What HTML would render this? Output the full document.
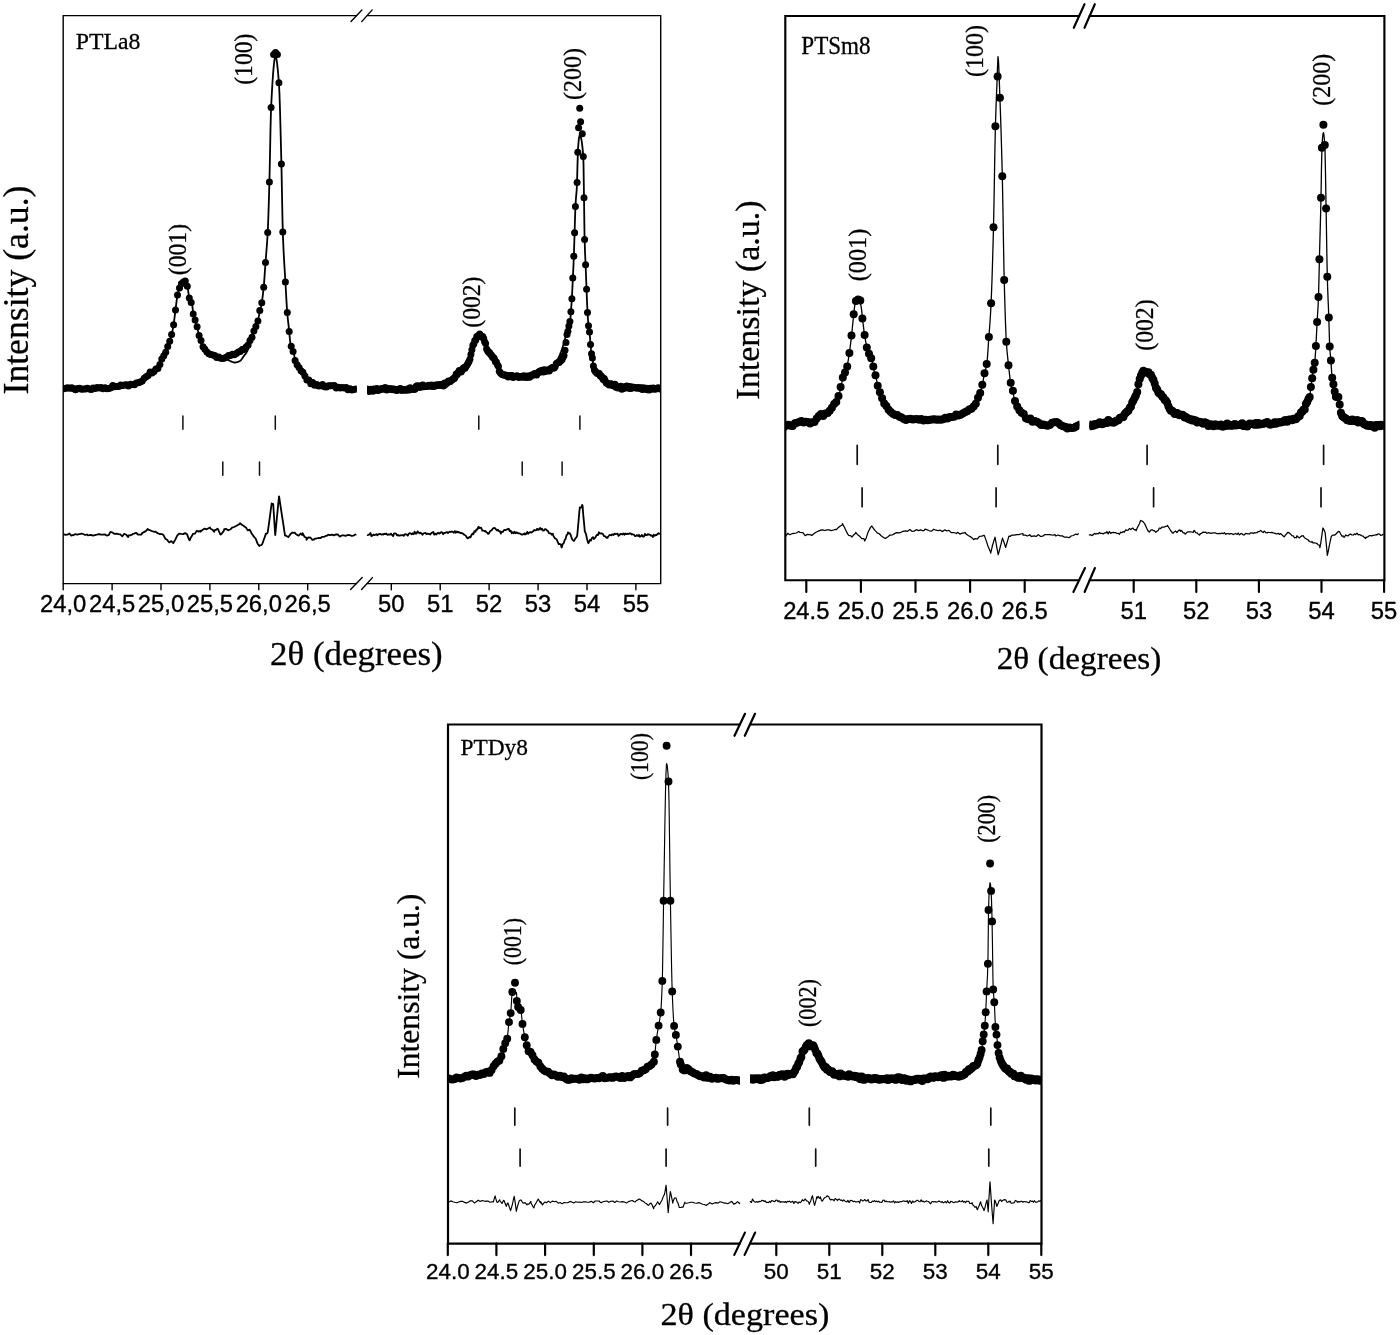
<!DOCTYPE html>
<html><head><meta charset="utf-8"><title>XRD</title>
<style>html,body{margin:0;padding:0;background:#fff;}svg{display:block;will-change:transform;}</style>
</head><body>
<svg width="1400" height="1335" viewBox="0 0 1400 1335">
<rect width="1400" height="1335" fill="#fff"/>
<g fill="none" stroke="#000" stroke-width="1.4" stroke-linecap="round" stroke-linejoin="miter"><path d="M356.6 15.6H63.2V583.6H356.6" /><path d="M367.1 15.6H660.7V583.6H367.1" /><path d="M351 21.6L361.9 9.9" /><path d="M361.7 21.6L372.2 9.9" /><path d="M350.6 589.5L362.2 577.6" /><path d="M361.6 589.5L372.4 577.6" /><path d="M63.2 583.6V589.7" /><path d="M112.1 583.6V589.7" /><path d="M161 583.6V589.7" /><path d="M209.9 583.6V589.7" /><path d="M258.8 583.6V589.7" /><path d="M307.7 583.6V589.7" /><path d="M391.3 583.6V589.7" /><path d="M440.2 583.6V589.7" /><path d="M489.1 583.6V589.7" /><path d="M538.1 583.6V589.7" /><path d="M587 583.6V589.7" /><path d="M635.9 583.6V589.7" /></g>
<g font-family='"Liberation Sans", sans-serif' font-size="23.8" text-anchor="middle" fill="#000" stroke="#000" stroke-width="0.35"><text x="63.2" y="611.8">24,0</text><text x="112.1" y="611.8">24,5</text><text x="161" y="611.8">25,0</text><text x="209.9" y="611.8">25,5</text><text x="258.8" y="611.8">26,0</text><text x="307.7" y="611.8">26,5</text><text x="391.3" y="611.8">50</text><text x="440.2" y="611.8">51</text><text x="489.1" y="611.8">52</text><text x="538.1" y="611.8">53</text><text x="587" y="611.8">54</text><text x="635.9" y="611.8">55</text></g>
<g fill="none" stroke="#000" stroke-width="2.15" stroke-linecap="round" stroke-linejoin="miter"><path d="M1079.2 16H785.3V580.2H1079.2" /><path d="M1089.7 16H1384.4V580.2H1089.7" /><path d="M1073.8 27.8L1084.5 4.2" /><path d="M1084.5 27.8L1094.8 4.2" /><path d="M1073.4 592L1085 568" /><path d="M1084.6 592L1094.9 568" /><path d="M806.3 580.2V592" /><path d="M860.9 580.2V592" /><path d="M915.5 580.2V592" /><path d="M970.1 580.2V592" /><path d="M1024.7 580.2V592" /><path d="M1133.7 580.2V592" /><path d="M1196.3 580.2V592" /><path d="M1258.9 580.2V592" /><path d="M1321.5 580.2V592" /><path d="M1384.1 580.2V592" /></g>
<g font-family='"Liberation Sans", sans-serif' font-size="23.8" text-anchor="middle" fill="#000" stroke="#000" stroke-width="0.35"><text x="806.3" y="618.6">24.5</text><text x="860.9" y="618.6">25.0</text><text x="915.5" y="618.6">25.5</text><text x="970.1" y="618.6">26.0</text><text x="1024.7" y="618.6">26.5</text><text x="1133.7" y="618.6">51</text><text x="1196.3" y="618.6">52</text><text x="1258.9" y="618.6">53</text><text x="1321.5" y="618.6">54</text><text x="1384.1" y="618.6">55</text></g>
<g fill="none" stroke="#000" stroke-width="2.2" stroke-linecap="round" stroke-linejoin="miter"><path d="M739.8 724.5H448V1243.7H739.8" /><path d="M750 724.5H1041.5V1243.7H750" /><path d="M734.5 735.8L745 713.8" /><path d="M744.8 735.8L755 713.8" /><path d="M734.3 1254.9L744.9 1232.6" /><path d="M744.6 1254.9L755.1 1232.6" /><path d="M447.8 1243.7V1255.1" /><path d="M496.4 1243.7V1255.1" /><path d="M545.1 1243.7V1255.1" /><path d="M593.8 1243.7V1255.1" /><path d="M642.4 1243.7V1255.1" /><path d="M691 1243.7V1255.1" /><path d="M776.3 1243.7V1255.1" /><path d="M829.3 1243.7V1255.1" /><path d="M882.3 1243.7V1255.1" /><path d="M935.3 1243.7V1255.1" /><path d="M988.3 1243.7V1255.1" /><path d="M1041.3 1243.7V1255.1" /></g>
<g font-family='"Liberation Sans", sans-serif' font-size="22.4" text-anchor="middle" fill="#000" stroke="#000" stroke-width="0.35"><text x="447.8" y="1279.1">24.0</text><text x="496.4" y="1279.1">24.5</text><text x="545.1" y="1279.1">25.0</text><text x="593.8" y="1279.1">25.5</text><text x="642.4" y="1279.1">26.0</text><text x="691" y="1279.1">26.5</text><text x="776.3" y="1279.1">50</text><text x="829.3" y="1279.1">51</text><text x="882.3" y="1279.1">52</text><text x="935.3" y="1279.1">53</text><text x="988.3" y="1279.1">54</text><text x="1041.3" y="1279.1">55</text></g>
<path d="M182.9 416V429.3M275.3 416V429.3M478.8 416V429.3M579.9 416V429.3M222.8 462V475.3M259.5 462V475.3M522.2 462V475.3M562.1 462V475.3" stroke="#111" stroke-width="1.5" fill="none" stroke-linecap="round"/>
<path d="M857.2 445.4V464.3M997.8 445.4V464.3M1147.1 445.4V464.3M1323.6 445.4V464.3M862.1 487.9V506.7M996.1 487.9V506.7M1153.6 487.9V506.7M1321 487.9V506.7" stroke="#111" stroke-width="1.7" fill="none" stroke-linecap="round"/>
<path d="M514.8 1108.2V1125.1M667.6 1108.2V1125.1M809.3 1108.2V1125.1M990.8 1108.2V1125.1M520.1 1149.1V1166.1M666.1 1149.1V1166.1M815.7 1149.1V1166.1M988.8 1149.1V1166.1" stroke="#111" stroke-width="1.7" fill="none" stroke-linecap="round"/>
<clipPath id="c1"><rect x="63.2" y="0" width="293.4" height="1335"/></clipPath>
<g clip-path="url(#c1)">
<path d="M60 388.5 60.5 388.5 61 388.5 61.5 388.5 62 388.5 62.5 388.5 63 388.5 63.5 388.5 64 388.5 64.5 388.5 65 388.5 65.5 388.5 66 388.5 66.5 388.5 67 388.5 67.5 388.5 68 388.5 68.5 388.6 69 388.6 69.5 388.6 70 388.6 70.5 388.6 71 388.6 71.5 388.6 72 388.6 72.5 388.6 73 388.7 73.5 388.7 74 388.7 74.5 388.7 75 388.7 75.5 388.7 76 388.7 76.5 388.7 77 388.7 77.5 388.8 78 388.8 78.5 388.8 79 388.8 79.5 388.8 80 388.8 80.5 388.8 81 388.8 81.5 388.8 82 388.8 82.5 388.8 83 388.8 83.5 388.8 84 388.9 84.5 388.9 85 388.9 85.5 388.9 86 388.9 86.5 388.9 87 388.9 87.5 388.9 88 388.9 88.5 388.9 89 388.9 89.5 388.9 90 388.9 90.5 388.9 91 388.9 91.5 388.9 92 389 92.5 389 93 389 93.5 389 94 389 94.5 389 95 389 95.5 389 96 389 96.5 389 97 389 97.5 389 98 389 98.5 389 99 389 99.5 389 100 389 100.5 389 101 389 101.5 389 102 389 102.5 388.9 103 388.9 103.5 388.9 104 388.8 104.5 388.8 105 388.7 105.5 388.7 106 388.6 106.5 388.6 107 388.5 107.5 388.4 108 388.4 108.5 388.3 109 388.2 109.5 388.1 110 388.1 110.5 388 111 387.9 111.5 387.8 112 387.8 112.5 387.7 113 387.6 113.5 387.5 114 387.4 114.5 387.3 115 387.1 115.5 387 116 386.8 116.5 386.7 117 386.6 117.5 386.5 118 386.5 118.5 386.4 119 386.3 119.5 386.2 120 386.2 120.5 386.1 121 386.1 121.5 386 122 386 122.5 385.9 123 385.9 123.5 385.8 124 385.8 124.5 385.7 125 385.7 125.5 385.6 126 385.6 126.5 385.5 127 385.4 127.5 385.4 128 385.3 128.5 385.2 129 385.1 129.5 385.1 130 385 130.5 384.9 131 384.8 131.5 384.7 132 384.6 132.5 384.5 133 384.4 133.5 384.3 134 384.2 134.5 384 135 383.9 135.5 383.8 136 383.6 136.5 383.5 137 383.3 137.5 383.2 138 383 138.5 382.8 139 382.6 139.5 382.4 140 382.2 140.5 381.9 141 381.7 141.5 381.4 142 381.1 142.5 380.8 143 380.4 143.5 380 144 379.5 144.5 378.9 145 378.3 145.5 377.6 146 376.9 146.5 376.3 147 375.6 147.5 375 148 374.5 148.5 374.1 149 373.7 149.5 373.4 150 373.2 150.5 373 151 372.8 151.5 372.5 152 372.3 152.5 372.1 153 371.9 153.5 371.6 154 371.3 154.5 370.9 155 370.5 155.5 370 156 369.5 156.5 368.9 157 368.3 157.5 367.6 158 366.9 158.5 366.1 159 365.3 159.5 364.5 160 363.7 160.5 362.8 161 361.7 161.5 360.6 162 359.4 162.5 358.3 163 357.2 163.5 356.2 164 355.3 164.5 354.3 165 353.4 165.5 352.4 166 351.3 166.5 350.1 167 348.8 167.5 347.3 168 345.7 168.5 344.2 169 342.6 169.5 341.1 170 339.7 170.5 338.2 171 336.7 171.5 335 172 333.1 172.5 330.8 173 328.1 173.5 325.1 174 321.8 174.5 317.9 175 313.9 175.5 309.9 176 305.8 176.5 301.6 177 298.2 177.5 295.5 178 293.1 178.5 290.9 179 289.2 179.5 287.7 180 286.6 180.5 285.5 181 284.7 181.5 284 182 283.4 182.5 282.8 183 282.3 183.5 281.9 184 281.6 184.5 281.5 185 281.7 185.5 282.3 186 283.2 186.5 284.4 187 285.8 187.5 287.3 188 289.5 188.5 293.4 189 297.1 189.5 298.9 190 300 190.5 300.7 191 301.4 191.5 302.3 192 303.7 192.5 307.2 193 311.9 193.5 314.6 194 316.8 194.5 318.8 195 320.6 195.5 322.4 196 323.9 196.5 325.5 197 327 197.5 328.8 198 330.7 198.5 332.7 199 334.8 199.5 336.8 200 338.5 200.5 340.3 201 342.1 201.5 343.7 202 345.2 202.5 346.4 203 347.2 203.5 347.9 204 348.4 204.5 348.9 205 349.3 205.5 349.7 206 350.2 206.5 350.6 207 351.1 207.5 351.7 208 352.3 208.5 352.8 209 353.4 209.5 353.9 210 354.3 210.5 354.7 211 354.9 211.5 355 212 355.2 212.5 355.3 213 355.4 213.5 355.5 214 355.6 214.5 355.7 215 355.8 215.5 355.9 216 356 216.5 356.2 217 356.3 217.5 356.5 218 356.9 218.5 357.3 219 357.8 219.5 358.2 220 358.5 220.5 358.5 221 358.5 221.5 358.4 222 358.4 222.5 358.3 223 358.2 223.5 358.1 224 358.1 224.5 358 225 358 225.5 358.1 226 358.3 226.5 358.6 227 359 227.5 359.4 228 359.9 228.5 360.2 229 360.5 229.5 360.7 230 361 230.5 361.2 231 361.4 231.5 361.6 232 361.8 232.5 362 233 362.2 233.5 362.3 234 362.4 234.5 362.5 235 362.5 235.5 362.5 236 362.4 236.5 362.3 237 362.2 237.5 362.1 238 361.9 238.5 361.7 239 361.5 239.5 361.2 240 361 240.5 360.7 241 360.1 241.5 359.5 242 358.8 242.5 358 243 357.2 243.5 356.5 244 355.8 244.5 355.2 245 354.5 245.5 353.9 246 353.2 246.5 352.4 247 351.6 247.5 350.6 248 349.5 248.5 347.9 249 345.7 249.5 343.4 250 341.5 250.5 340.1 251 338.8 251.5 337.7 252 336.6 252.5 335.5 253 334.4 253.5 333.4 254 332.4 254.5 331.4 255 330.4 255.5 329.2 256 327.9 256.5 326.4 257 324.7 257.5 322.8 258 320.7 258.5 318.2 259 315.6 259.5 312.9 260 310.6 260.5 308.6 261 306.7 261.5 304.3 262 301.2 262.5 297.7 263 293.6 263.5 289.1 264 283.8 264.5 277.1 265 269.8 265.5 262.6 266 256.3 266.5 250.3 267 243.9 267.5 236.2 268 226.1 268.5 212.3 269 196 269.5 178.2 270 154.5 270.5 128.9 271 109.7 271.5 99.6 272 90.5 272.5 82.2 273 74.8 273.5 68.6 274 63.5 274.5 59.7 275 57.3 275.5 56.5 276 57.2 276.5 59.3 277 62.6 277.5 66.8 278 72 278.5 77.8 279 84.2 279.5 94.7 280 109.8 280.5 128.1 281 147.9 281.5 168.2 282 194.3 282.5 220.5 283 237.4 283.5 249.2 284 258.8 284.5 267.2 285 275.2 285.5 283.8 286 292.8 286.5 301.6 287 309.4 287.5 315.6 288 320.5 288.5 324.8 289 329.3 289.5 334.6 290 340.3 290.5 344.5 291 346.4 291.5 347.7 292 348.6 292.5 349.4 293 350.3 293.5 351.7 294 353.9 294.5 357.1 295 359.8 295.5 361.4 296 362.6 296.5 363.7 297 364.6 297.5 365.5 298 366.2 298.5 367 299 367.9 299.5 368.7 300 369.5 300.5 370.2 301 371 301.5 371.7 302 372.4 302.5 373.1 303 373.9 303.5 374.7 304 375.5 304.5 376.3 305 377.2 305.5 378 306 378.8 306.5 379.4 307 380 307.5 380.5 308 381 308.5 381.4 309 381.8 309.5 382.2 310 382.5 310.5 382.9 311 383.2 311.5 383.5 312 383.7 312.5 383.9 313 384.1 313.5 384.3 314 384.5 314.5 384.6 315 384.8 315.5 384.9 316 385 316.5 385.1 317 385.2 317.5 385.2 318 385.3 318.5 385.4 319 385.4 319.5 385.5 320 385.5 320.5 385.6 321 385.6 321.5 385.6 322 385.7 322.5 385.7 323 385.7 323.5 385.7 324 385.8 324.5 385.8 325 385.8 325.5 385.8 326 385.8 326.5 385.8 327 385.8 327.5 385.8 328 385.8 328.5 385.8 329 385.9 329.5 385.9 330 385.9 330.5 385.9 331 385.9 331.5 385.9 332 385.9 332.5 386 333 386 333.5 386 334 386.1 334.5 386.3 335 386.4 335.5 386.7 336 386.9 336.5 387.1 337 387.3 337.5 387.5 338 387.7 338.5 387.8 339 387.9 339.5 387.9 340 388 340.5 388.1 341 388.1 341.5 388.2 342 388.3 342.5 388.3 343 388.4 343.5 388.4 344 388.5 344.5 388.5 345 388.5 345.5 388.6 346 388.6 346.5 388.7 347 388.7 347.5 388.7 348 388.8 348.5 388.8 349 388.9 349.5 388.9 350 389 350.5 389 351 389.1 351.5 389.1 352 389.2 352.5 389.2 353 389.3 353.5 389.3 354 389.4 354.5 389.4 355 389.4 355.5 389.5 356 389.5 356.5 389.5 357 389.5 357.5 389.5 358 389.5 358.5 389.5 359 389.5 359.5 389.5 360 389.5" fill="none" stroke="#000" stroke-width="1.8" stroke-linejoin="round"/>
<g fill="#000"><circle cx="61.9" cy="388.5" r="3.5"/><circle cx="63.8" cy="388.7" r="3.5"/><circle cx="65.8" cy="388.3" r="3.5"/><circle cx="67.7" cy="387.8" r="3.5"/><circle cx="69.7" cy="388.2" r="3.5"/><circle cx="71.7" cy="387.8" r="3.5"/><circle cx="73.6" cy="388.7" r="3.5"/><circle cx="75.6" cy="389.8" r="3.5"/><circle cx="77.5" cy="388.4" r="3.5"/><circle cx="79.5" cy="388.3" r="3.5"/><circle cx="81.5" cy="389.2" r="3.5"/><circle cx="83.4" cy="389.1" r="3.5"/><circle cx="85.4" cy="389" r="3.5"/><circle cx="87.3" cy="388.2" r="3.5"/><circle cx="89.3" cy="388.9" r="3.5"/><circle cx="91.3" cy="389.5" r="3.5"/><circle cx="93.2" cy="387.9" r="3.5"/><circle cx="95.2" cy="388.6" r="3.5"/><circle cx="97.1" cy="387.5" r="3.5"/><circle cx="99.1" cy="388" r="3.5"/><circle cx="101.1" cy="387.5" r="3.5"/><circle cx="103" cy="388.7" r="3.5"/><circle cx="105" cy="387.7" r="3.5"/><circle cx="106.9" cy="388.7" r="3.5"/><circle cx="108.9" cy="388.4" r="3.5"/><circle cx="110.9" cy="387.8" r="3.5"/><circle cx="112.8" cy="385.6" r="3.5"/><circle cx="114.8" cy="386.8" r="3.5"/><circle cx="116.7" cy="386.6" r="3.5"/><circle cx="118.7" cy="386.4" r="3.5"/><circle cx="120.7" cy="384.9" r="3.5"/><circle cx="122.6" cy="385.5" r="3.5"/><circle cx="124.6" cy="384.9" r="3.5"/><circle cx="126.5" cy="384.8" r="3.5"/><circle cx="128.5" cy="386.1" r="3.5"/><circle cx="130.5" cy="384.2" r="3.5"/><circle cx="132.4" cy="384.5" r="3.5"/><circle cx="134.4" cy="384.8" r="3.5"/><circle cx="136.3" cy="383.1" r="3.5"/><circle cx="138.3" cy="382.8" r="3.5"/><circle cx="140.3" cy="382.1" r="3.5"/><circle cx="142.2" cy="381" r="3.5"/><circle cx="144.2" cy="378.3" r="3.5"/><circle cx="146.1" cy="376.8" r="3.5"/><circle cx="148.1" cy="375.5" r="3.5"/><circle cx="150.1" cy="371.9" r="3.5"/><circle cx="152" cy="373" r="3.5"/><circle cx="154" cy="371.4" r="3.5"/><circle cx="155.9" cy="369.1" r="3.5"/><circle cx="157.9" cy="368.6" r="3.5"/><circle cx="159.9" cy="364.5" r="3.5"/><circle cx="161.8" cy="358.9" r="3.5"/><circle cx="163.8" cy="355.7" r="3.5"/><circle cx="165.7" cy="352.3" r="3.5"/><circle cx="167.7" cy="346.5" r="3.5"/><circle cx="169.7" cy="341.2" r="3.5"/><circle cx="171.6" cy="334.5" r="3.5"/><circle cx="173.6" cy="324.8" r="3.5"/><circle cx="175.5" cy="309.9" r="3.5"/><circle cx="177.5" cy="295" r="3.5"/><circle cx="179.5" cy="288" r="3.5"/><circle cx="181.4" cy="283.7" r="3.5"/><circle cx="183.4" cy="282.1" r="3.5"/><circle cx="185.3" cy="281.1" r="3.5"/><circle cx="187.3" cy="286.2" r="3.5"/><circle cx="189.3" cy="298" r="3.5"/><circle cx="191.2" cy="302.5" r="3.5"/><circle cx="193.2" cy="313.9" r="3.5"/><circle cx="195.1" cy="320.1" r="3.5"/><circle cx="197.1" cy="326.7" r="3.5"/><circle cx="199.1" cy="335.5" r="3.5"/><circle cx="201" cy="340.5" r="3.5"/><circle cx="203" cy="346.8" r="3.5"/><circle cx="204.9" cy="349.2" r="3.5"/><circle cx="206.9" cy="352" r="3.5"/><circle cx="208.9" cy="353.8" r="3.5"/><circle cx="210.8" cy="354.5" r="3.5"/><circle cx="212.8" cy="355.1" r="3.5"/><circle cx="214.7" cy="355.6" r="3.5"/><circle cx="216.7" cy="357.5" r="3.5"/><circle cx="218.7" cy="357.1" r="3.5"/><circle cx="220.6" cy="358.3" r="3.5"/><circle cx="222.6" cy="358.6" r="3.5"/><circle cx="224.5" cy="358" r="3.5"/><circle cx="226.5" cy="357.3" r="3.5"/><circle cx="228.5" cy="355.5" r="3.5"/><circle cx="230.4" cy="355.4" r="3.5"/><circle cx="232.4" cy="354.2" r="3.5"/><circle cx="234.3" cy="354.7" r="3.5"/><circle cx="236.3" cy="353.4" r="3.5"/><circle cx="238.3" cy="351.9" r="3.5"/><circle cx="240.2" cy="351.4" r="3.5"/><circle cx="242.2" cy="349.6" r="3.5"/><circle cx="244.1" cy="349.5" r="3.5"/><circle cx="246.1" cy="347" r="3.5"/><circle cx="248.1" cy="345" r="3.5"/><circle cx="250" cy="340.4" r="3.5"/><circle cx="252" cy="337.3" r="3.5"/><circle cx="253.9" cy="331.1" r="3.5"/><circle cx="255.9" cy="326.5" r="3.5"/><circle cx="257.9" cy="321.1" r="3.5"/><circle cx="259.8" cy="310.6" r="3.5"/><circle cx="261.8" cy="302.7" r="3.5"/><circle cx="263.7" cy="287.2" r="3.5"/><circle cx="287.3" cy="312.6" r="3.5"/><circle cx="289.2" cy="331.5" r="3.5"/><circle cx="291.2" cy="346.2" r="3.5"/><circle cx="293.1" cy="351.4" r="3.5"/><circle cx="295.1" cy="360.4" r="3.5"/><circle cx="297.1" cy="364.8" r="3.5"/><circle cx="299" cy="367.4" r="3.5"/><circle cx="301" cy="370.8" r="3.5"/><circle cx="302.9" cy="372.2" r="3.5"/><circle cx="304.9" cy="376.1" r="3.5"/><circle cx="306.9" cy="380.1" r="3.5"/><circle cx="308.8" cy="380" r="3.5"/><circle cx="310.8" cy="383.7" r="3.5"/><circle cx="312.7" cy="382.6" r="3.5"/><circle cx="314.7" cy="385.3" r="3.5"/><circle cx="316.7" cy="384.4" r="3.5"/><circle cx="318.6" cy="386" r="3.5"/><circle cx="320.6" cy="385.7" r="3.5"/><circle cx="322.5" cy="384.5" r="3.5"/><circle cx="324.5" cy="386.8" r="3.5"/><circle cx="326.5" cy="387" r="3.5"/><circle cx="328.4" cy="385.8" r="3.5"/><circle cx="330.4" cy="385.7" r="3.5"/><circle cx="332.3" cy="385.8" r="3.5"/><circle cx="334.3" cy="385.4" r="3.5"/><circle cx="336.3" cy="387.9" r="3.5"/><circle cx="338.2" cy="387.3" r="3.5"/><circle cx="340.2" cy="388" r="3.5"/><circle cx="342.1" cy="387.6" r="3.5"/><circle cx="344.1" cy="388" r="3.5"/><circle cx="346.1" cy="387.6" r="3.5"/><circle cx="348" cy="389.8" r="3.5"/><circle cx="350" cy="388.8" r="3.5"/><circle cx="351.9" cy="389.9" r="3.5"/><circle cx="353.9" cy="389.4" r="3.5"/><circle cx="355.9" cy="388.9" r="3.5"/><circle cx="357.8" cy="389.2" r="3.5"/><circle cx="359.8" cy="389.1" r="3.5"/><circle cx="265.5" cy="262.6" r="3.5"/><circle cx="267.7" cy="232.6" r="3.5"/><circle cx="269.4" cy="182" r="3.5"/><circle cx="271.1" cy="107.4" r="3.5"/><circle cx="273.6" cy="54.5" r="3.5"/><circle cx="275.5" cy="52.5" r="3.5"/><circle cx="277.4" cy="54.5" r="3.5"/><circle cx="278.9" cy="82.8" r="3.5"/><circle cx="281.4" cy="164" r="3.5"/><circle cx="282.8" cy="231.9" r="3.5"/><circle cx="285.4" cy="282" r="3.5"/></g>
</g>
<clipPath id="c2"><rect x="367.1" y="0" width="293.6" height="1335"/></clipPath>
<g clip-path="url(#c2)">
<path d="M364 390.2 364.5 390.2 365 390.2 365.5 390.2 366 390.2 366.5 390.2 367 390.2 367.5 390.2 368 390.2 368.5 390.2 369 390.2 369.5 390.2 370 390.2 370.5 390.2 371 390.2 371.5 390.2 372 390.2 372.5 390.2 373 390.1 373.5 390.1 374 390.1 374.5 390.1 375 390.1 375.5 390.1 376 390.1 376.5 390.1 377 390 377.5 390 378 390 378.5 390 379 389.9 379.5 389.8 380 389.6 380.5 389.5 381 389.3 381.5 389.2 382 389 382.5 388.9 383 388.8 383.5 388.7 384 388.7 384.5 388.7 385 388.7 385.5 388.7 386 388.8 386.5 388.8 387 388.8 387.5 388.9 388 388.9 388.5 389 389 389 389.5 389.1 390 389.1 390.5 389.2 391 389.2 391.5 389.3 392 389.3 392.5 389.3 393 389.4 393.5 389.4 394 389.4 394.5 389.4 395 389.4 395.5 389.4 396 389.4 396.5 389.4 397 389.4 397.5 389.5 398 389.5 398.5 389.5 399 389.5 399.5 389.5 400 389.5 400.5 389.5 401 389.5 401.5 389.5 402 389.5 402.5 389.5 403 389.5 403.5 389.5 404 389.5 404.5 389.5 405 389.5 405.5 389.4 406 389.4 406.5 389.3 407 389.3 407.5 389.2 408 389.1 408.5 389 409 389 409.5 388.9 410 388.8 410.5 388.7 411 388.6 411.5 388.5 412 388.4 412.5 388.3 413 388.2 413.5 388.1 414 388 414.5 387.9 415 387.8 415.5 387.6 416 387.5 416.5 387.3 417 387.2 417.5 387.1 418 386.9 418.5 386.8 419 386.8 419.5 386.7 420 386.7 420.5 386.7 421 386.6 421.5 386.6 422 386.6 422.5 386.6 423 386.6 423.5 386.6 424 386.5 424.5 386.5 425 386.5 425.5 386.5 426 386.5 426.5 386.5 427 386.5 427.5 386.5 428 386.5 428.5 386.4 429 386.4 429.5 386.4 430 386.4 430.5 386.3 431 386.3 431.5 386.3 432 386.2 432.5 386.2 433 386.2 433.5 386.1 434 386.1 434.5 386 435 386 435.5 385.9 436 385.9 436.5 385.8 437 385.8 437.5 385.7 438 385.6 438.5 385.6 439 385.5 439.5 385.4 440 385.3 440.5 385.2 441 385.1 441.5 385 442 384.9 442.5 384.7 443 384.6 443.5 384.4 444 384.3 444.5 384.1 445 383.9 445.5 383.7 446 383.5 446.5 383.3 447 383.1 447.5 382.8 448 382.5 448.5 382.2 449 381.9 449.5 381.6 450 381.3 450.5 380.9 451 380.6 451.5 380.2 452 379.8 452.5 379.4 453 379 453.5 378.5 454 378 454.5 377.5 455 377 455.5 376.5 456 376 456.5 375.6 457 375.1 457.5 374.6 458 374.1 458.5 373.7 459 373.2 459.5 372.7 460 372.2 460.5 371.7 461 371.2 461.5 370.7 462 370.2 462.5 369.7 463 369.3 463.5 368.8 464 368.4 464.5 367.9 465 367.4 465.5 366.8 466 366.3 466.5 365.6 467 364.9 467.5 364.2 468 363.3 468.5 362.4 469 361.3 469.5 360 470 358.5 470.5 356.3 471 353.5 471.5 351.1 472 349.1 472.5 347.3 473 345.7 473.5 344.3 474 343 474.5 341.8 475 340.7 475.5 339.7 476 338.8 476.5 338.1 477 337.4 477.5 336.7 478 336.1 478.5 335.5 479 335.2 479.5 335 480 335 480.5 335.2 481 335.4 481.5 335.7 482 336.1 482.5 336.6 483 337.1 483.5 337.8 484 338.9 484.5 340.9 485 343 485.5 345 486 347.1 486.5 348.5 487 349.6 487.5 350.6 488 351.4 488.5 352.1 489 352.8 489.5 353.4 490 354 490.5 354.5 491 354.9 491.5 355.4 492 355.8 492.5 356.3 493 356.8 493.5 357.4 494 358.1 494.5 358.8 495 359.7 495.5 360.7 496 361.7 496.5 362.7 497 363.9 497.5 365.3 498 366.7 498.5 368 499 369.1 499.5 370.3 500 371.4 500.5 372.3 501 372.8 501.5 373.3 502 373.7 502.5 374.1 503 374.4 503.5 374.7 504 374.9 504.5 375.1 505 375.2 505.5 375.3 506 375.4 506.5 375.4 507 375.5 507.5 375.6 508 375.6 508.5 375.7 509 375.8 509.5 375.8 510 375.9 510.5 375.9 511 376 511.5 376.1 512 376.1 512.5 376.2 513 376.2 513.5 376.3 514 376.3 514.5 376.4 515 376.4 515.5 376.4 516 376.5 516.5 376.5 517 376.6 517.5 376.6 518 376.7 518.5 376.7 519 376.8 519.5 376.8 520 376.9 520.5 376.9 521 377 521.5 377 522 377 522.5 377.1 523 377.1 523.5 377.1 524 377.1 524.5 377.1 525 377.1 525.5 377 526 377 526.5 376.9 527 376.8 527.5 376.7 528 376.6 528.5 376.4 529 376.3 529.5 376.1 530 376 530.5 375.8 531 375.6 531.5 375.5 532 375.3 532.5 375.1 533 375 533.5 374.8 534 374.6 534.5 374.4 535 374.2 535.5 374 536 373.8 536.5 373.5 537 373.3 537.5 373.1 538 372.8 538.5 372.6 539 372.4 539.5 372.2 540 372 540.5 371.8 541 371.6 541.5 371.5 542 371.3 542.5 371.1 543 371 543.5 370.8 544 370.7 544.5 370.5 545 370.4 545.5 370.2 546 370.1 546.5 369.9 547 369.8 547.5 369.7 548 369.6 548.5 369.5 549 369.4 549.5 369.3 550 369.2 550.5 369.1 551 368.9 551.5 368.8 552 368.6 552.5 368.3 553 368 553.5 367.4 554 366.7 554.5 365.8 555 364.9 555.5 363.9 556 362.9 556.5 362 557 361 557.5 360 558 359 558.5 357.8 559 356.7 559.5 355.5 560 354.3 560.5 353 561 351.8 561.5 350.4 562 349 562.5 347.5 563 345.9 563.5 344.3 564 342.6 564.5 341 565 339 565.5 336.9 566 335.3 566.5 336 567 335.5 567.5 333.1 568 329.9 568.5 327.2 569 325.3 569.5 323.3 570 320.9 570.5 317.1 571 310.4 571.5 303.9 572 296.3 572.5 285.9 573 275.3 573.5 264.8 574 251.4 574.5 235.8 575 218.6 575.5 204.7 576 197.7 576.5 192.4 577 184.8 577.5 164.2 578 149.1 578.5 142.5 579 137.9 579.5 135.6 580 135.5 580.5 136.3 581 137.8 581.5 140.1 582 143.3 582.5 147.6 583 152.9 583.5 163.5 584 197.8 584.5 234.7 585 251.6 585.5 262.8 586 275.3 586.5 287.8 587 301.7 587.5 312 588 319.7 588.5 325.6 589 329.7 589.5 332.4 590 337.2 590.5 344.4 591 349.7 591.5 353.7 592 355.8 592.5 357.3 593 363.6 593.5 366.6 594 368.4 594.5 369.8 595 370.9 595.5 371.8 596 372.5 596.5 373 597 373.5 597.5 373.9 598 374.2 598.5 374.4 599 374.6 599.5 374.8 600 375.1 600.5 375.4 601 375.9 601.5 376.4 602 377 602.5 377.7 603 378.4 603.5 379 604 379.7 604.5 380.4 605 381.1 605.5 381.8 606 382.4 606.5 382.9 607 383.2 607.5 383.4 608 383.6 608.5 383.9 609 384 609.5 384.2 610 384.4 610.5 384.5 611 384.6 611.5 384.8 612 384.9 612.5 385 613 385.2 613.5 385.3 614 385.4 614.5 385.6 615 385.8 615.5 385.9 616 386.1 616.5 386.3 617 386.5 617.5 386.7 618 386.8 618.5 387 619 387.1 619.5 387.2 620 387.2 620.5 387.2 621 387.3 621.5 387.3 622 387.3 622.5 387.3 623 387.3 623.5 387.3 624 387.3 624.5 387.4 625 387.4 625.5 387.4 626 387.4 626.5 387.4 627 387.4 627.5 387.4 628 387.4 628.5 387.4 629 387.5 629.5 387.5 630 387.5 630.5 387.5 631 387.6 631.5 387.6 632 387.6 632.5 387.7 633 387.7 633.5 387.8 634 387.9 634.5 387.9 635 388 635.5 388.1 636 388.1 636.5 388.2 637 388.3 637.5 388.3 638 388.4 638.5 388.5 639 388.5 639.5 388.6 640 388.7 640.5 388.7 641 388.8 641.5 388.8 642 388.9 642.5 388.9 643 388.9 643.5 389 644 389 644.5 389 645 389 645.5 389 646 389 646.5 389 647 389 647.5 389 648 389 648.5 388.9 649 388.9 649.5 388.9 650 388.9 650.5 388.9 651 388.8 651.5 388.8 652 388.8 652.5 388.8 653 388.8 653.5 388.7 654 388.7 654.5 388.7 655 388.7 655.5 388.6 656 388.6 656.5 388.6 657 388.6 657.5 388.6 658 388.5 658.5 388.5 659 388.5 659.5 388.5 660 388.5 660.5 388.5 661 388.5 661.5 388.5 662 388.5 662.5 388.5 663 388.5 663.5 388.5 664 388.5" fill="none" stroke="#000" stroke-width="1.8" stroke-linejoin="round"/>
<g fill="#000"><circle cx="364.1" cy="390.2" r="3.5"/><circle cx="365.1" cy="389.9" r="3.5"/><circle cx="366.1" cy="390" r="3.5"/><circle cx="367" cy="389.1" r="3.5"/><circle cx="368" cy="389.6" r="3.5"/><circle cx="369" cy="391.5" r="3.5"/><circle cx="370" cy="389.6" r="3.5"/><circle cx="371" cy="389.3" r="3.5"/><circle cx="371.9" cy="390.4" r="3.5"/><circle cx="372.9" cy="391.3" r="3.5"/><circle cx="373.9" cy="389" r="3.5"/><circle cx="374.9" cy="389.9" r="3.5"/><circle cx="375.9" cy="389.6" r="3.5"/><circle cx="376.8" cy="388.6" r="3.5"/><circle cx="377.8" cy="390.6" r="3.5"/><circle cx="378.8" cy="389.9" r="3.5"/><circle cx="379.8" cy="389.7" r="3.5"/><circle cx="380.8" cy="388.8" r="3.5"/><circle cx="381.7" cy="389.5" r="3.5"/><circle cx="382.7" cy="388.4" r="3.5"/><circle cx="383.7" cy="388.6" r="3.5"/><circle cx="384.7" cy="387.8" r="3.5"/><circle cx="385.7" cy="387.8" r="3.5"/><circle cx="386.6" cy="389.9" r="3.5"/><circle cx="387.6" cy="388.5" r="3.5"/><circle cx="388.6" cy="389.2" r="3.5"/><circle cx="389.6" cy="389.1" r="3.5"/><circle cx="390.6" cy="388.8" r="3.5"/><circle cx="391.5" cy="388.9" r="3.5"/><circle cx="392.5" cy="389.8" r="3.5"/><circle cx="393.5" cy="389.1" r="3.5"/><circle cx="394.5" cy="389.3" r="3.5"/><circle cx="395.5" cy="389.4" r="3.5"/><circle cx="396.4" cy="390.4" r="3.5"/><circle cx="397.4" cy="390" r="3.5"/><circle cx="398.4" cy="389.8" r="3.5"/><circle cx="399.4" cy="389" r="3.5"/><circle cx="400.4" cy="388.4" r="3.5"/><circle cx="401.3" cy="390.3" r="3.5"/><circle cx="402.3" cy="390.3" r="3.5"/><circle cx="403.3" cy="389.4" r="3.5"/><circle cx="404.3" cy="389.9" r="3.5"/><circle cx="405.3" cy="390.1" r="3.5"/><circle cx="406.2" cy="390" r="3.5"/><circle cx="407.2" cy="390" r="3.5"/><circle cx="408.2" cy="388.7" r="3.5"/><circle cx="409.2" cy="390.1" r="3.5"/><circle cx="410.2" cy="387.8" r="3.5"/><circle cx="411.1" cy="389.3" r="3.5"/><circle cx="412.1" cy="388.8" r="3.5"/><circle cx="413.1" cy="388.9" r="3.5"/><circle cx="414.1" cy="389.5" r="3.5"/><circle cx="415.1" cy="388.9" r="3.5"/><circle cx="416" cy="386.5" r="3.5"/><circle cx="417" cy="385.8" r="3.5"/><circle cx="418" cy="387.6" r="3.5"/><circle cx="419" cy="385.9" r="3.5"/><circle cx="420" cy="386.7" r="3.5"/><circle cx="420.9" cy="387.3" r="3.5"/><circle cx="421.9" cy="385.3" r="3.5"/><circle cx="422.9" cy="384.9" r="3.5"/><circle cx="423.9" cy="386.8" r="3.5"/><circle cx="424.9" cy="386.6" r="3.5"/><circle cx="425.8" cy="386.3" r="3.5"/><circle cx="426.8" cy="386.5" r="3.5"/><circle cx="427.8" cy="385.8" r="3.5"/><circle cx="428.8" cy="385.2" r="3.5"/><circle cx="429.8" cy="386.2" r="3.5"/><circle cx="430.7" cy="385.5" r="3.5"/><circle cx="431.7" cy="384.9" r="3.5"/><circle cx="432.7" cy="386.6" r="3.5"/><circle cx="433.7" cy="386.1" r="3.5"/><circle cx="434.7" cy="386.3" r="3.5"/><circle cx="435.6" cy="385.1" r="3.5"/><circle cx="436.6" cy="385.3" r="3.5"/><circle cx="437.6" cy="384.9" r="3.5"/><circle cx="438.6" cy="384.8" r="3.5"/><circle cx="439.6" cy="385.6" r="3.5"/><circle cx="440.5" cy="384.6" r="3.5"/><circle cx="441.5" cy="385.3" r="3.5"/><circle cx="442.5" cy="385" r="3.5"/><circle cx="443.5" cy="386" r="3.5"/><circle cx="444.5" cy="383" r="3.5"/><circle cx="445.4" cy="384.5" r="3.5"/><circle cx="446.4" cy="383.3" r="3.5"/><circle cx="447.4" cy="382.8" r="3.5"/><circle cx="448.4" cy="381.1" r="3.5"/><circle cx="449.4" cy="381.3" r="3.5"/><circle cx="450.3" cy="381.6" r="3.5"/><circle cx="451.3" cy="380.3" r="3.5"/><circle cx="452.3" cy="379.7" r="3.5"/><circle cx="453.3" cy="378.5" r="3.5"/><circle cx="454.3" cy="378.6" r="3.5"/><circle cx="455.2" cy="376.8" r="3.5"/><circle cx="456.2" cy="374.1" r="3.5"/><circle cx="457.2" cy="374.4" r="3.5"/><circle cx="458.2" cy="372.4" r="3.5"/><circle cx="459.2" cy="370.4" r="3.5"/><circle cx="460.1" cy="371.6" r="3.5"/><circle cx="461.1" cy="372.1" r="3.5"/><circle cx="462.1" cy="370.2" r="3.5"/><circle cx="463.1" cy="368.3" r="3.5"/><circle cx="464.1" cy="367.6" r="3.5"/><circle cx="465" cy="368.2" r="3.5"/><circle cx="466" cy="366.4" r="3.5"/><circle cx="467" cy="365" r="3.5"/><circle cx="468" cy="363.3" r="3.5"/><circle cx="469" cy="361.4" r="3.5"/><circle cx="469.9" cy="359.3" r="3.5"/><circle cx="470.9" cy="354.4" r="3.5"/><circle cx="471.9" cy="349.7" r="3.5"/><circle cx="472.9" cy="345.2" r="3.5"/><circle cx="473.9" cy="343.7" r="3.5"/><circle cx="474.8" cy="340.5" r="3.5"/><circle cx="475.8" cy="340" r="3.5"/><circle cx="476.8" cy="336.6" r="3.5"/><circle cx="477.8" cy="336.2" r="3.5"/><circle cx="478.8" cy="335.3" r="3.5"/><circle cx="479.7" cy="333.9" r="3.5"/><circle cx="480.7" cy="336.6" r="3.5"/><circle cx="481.7" cy="337" r="3.5"/><circle cx="482.7" cy="336.4" r="3.5"/><circle cx="483.7" cy="338.6" r="3.5"/><circle cx="484.6" cy="341.8" r="3.5"/><circle cx="485.6" cy="343.4" r="3.5"/><circle cx="486.6" cy="349" r="3.5"/><circle cx="487.6" cy="350.7" r="3.5"/><circle cx="488.6" cy="352.3" r="3.5"/><circle cx="489.5" cy="352.6" r="3.5"/><circle cx="490.5" cy="354.3" r="3.5"/><circle cx="491.5" cy="355.2" r="3.5"/><circle cx="492.5" cy="357.2" r="3.5"/><circle cx="493.5" cy="357.6" r="3.5"/><circle cx="494.4" cy="358.7" r="3.5"/><circle cx="495.4" cy="361.7" r="3.5"/><circle cx="496.4" cy="362.1" r="3.5"/><circle cx="497.4" cy="364.7" r="3.5"/><circle cx="498.4" cy="366.2" r="3.5"/><circle cx="499.3" cy="371.2" r="3.5"/><circle cx="500.3" cy="372.8" r="3.5"/><circle cx="501.3" cy="373.8" r="3.5"/><circle cx="502.3" cy="374.5" r="3.5"/><circle cx="503.3" cy="374.7" r="3.5"/><circle cx="504.2" cy="375.2" r="3.5"/><circle cx="505.2" cy="375" r="3.5"/><circle cx="506.2" cy="375.2" r="3.5"/><circle cx="507.2" cy="375.6" r="3.5"/><circle cx="508.2" cy="376.9" r="3.5"/><circle cx="509.1" cy="376.2" r="3.5"/><circle cx="510.1" cy="375.8" r="3.5"/><circle cx="511.1" cy="375.5" r="3.5"/><circle cx="512.1" cy="375.6" r="3.5"/><circle cx="513.1" cy="377.5" r="3.5"/><circle cx="514" cy="376.7" r="3.5"/><circle cx="515" cy="376.5" r="3.5"/><circle cx="516" cy="376.2" r="3.5"/><circle cx="517" cy="375.7" r="3.5"/><circle cx="518" cy="376.6" r="3.5"/><circle cx="518.9" cy="377.5" r="3.5"/><circle cx="519.9" cy="376.6" r="3.5"/><circle cx="520.9" cy="376.8" r="3.5"/><circle cx="521.9" cy="376.8" r="3.5"/><circle cx="522.9" cy="377.2" r="3.5"/><circle cx="523.8" cy="375.8" r="3.5"/><circle cx="524.8" cy="376.9" r="3.5"/><circle cx="525.8" cy="376.3" r="3.5"/><circle cx="526.8" cy="377.5" r="3.5"/><circle cx="527.8" cy="376" r="3.5"/><circle cx="528.7" cy="376.8" r="3.5"/><circle cx="529.7" cy="377.3" r="3.5"/><circle cx="530.7" cy="375.5" r="3.5"/><circle cx="531.7" cy="374.9" r="3.5"/><circle cx="532.7" cy="375.2" r="3.5"/><circle cx="533.6" cy="374.7" r="3.5"/><circle cx="534.6" cy="373.6" r="3.5"/><circle cx="535.6" cy="374.3" r="3.5"/><circle cx="536.6" cy="375.1" r="3.5"/><circle cx="537.6" cy="372.8" r="3.5"/><circle cx="538.5" cy="372.4" r="3.5"/><circle cx="539.5" cy="371.3" r="3.5"/><circle cx="540.5" cy="372.1" r="3.5"/><circle cx="541.5" cy="370.5" r="3.5"/><circle cx="542.5" cy="370.3" r="3.5"/><circle cx="543.4" cy="371.9" r="3.5"/><circle cx="544.4" cy="369.8" r="3.5"/><circle cx="545.4" cy="371.1" r="3.5"/><circle cx="546.4" cy="371.2" r="3.5"/><circle cx="547.4" cy="369.9" r="3.5"/><circle cx="548.3" cy="369.9" r="3.5"/><circle cx="549.3" cy="370.9" r="3.5"/><circle cx="550.3" cy="368.9" r="3.5"/><circle cx="551.3" cy="368.3" r="3.5"/><circle cx="552.3" cy="367.4" r="3.5"/><circle cx="553.2" cy="367.9" r="3.5"/><circle cx="554.2" cy="368" r="3.5"/><circle cx="555.2" cy="366.4" r="3.5"/><circle cx="556.2" cy="363.7" r="3.5"/><circle cx="557.2" cy="363" r="3.5"/><circle cx="558.1" cy="362.6" r="3.5"/><circle cx="559.1" cy="362.5" r="3.5"/><circle cx="560.1" cy="361.3" r="3.5"/><circle cx="561.1" cy="360.6" r="3.5"/><circle cx="562.1" cy="359.4" r="3.5"/><circle cx="563" cy="357.2" r="3.5"/><circle cx="564" cy="355.5" r="3.5"/><circle cx="565" cy="350.2" r="3.5"/><circle cx="566" cy="342.6" r="3.5"/><circle cx="567" cy="334.5" r="3.5"/><circle cx="567.9" cy="331.2" r="3.5"/><circle cx="568.9" cy="326" r="3.5"/><circle cx="569.9" cy="321.5" r="3.5"/><circle cx="570.9" cy="311.7" r="3.5"/><circle cx="571.9" cy="298.7" r="3.5"/><circle cx="572.8" cy="278.1" r="3.5"/><circle cx="573.8" cy="256.3" r="3.5"/><circle cx="585.6" cy="264.8" r="3.5"/><circle cx="586.6" cy="289.3" r="3.5"/><circle cx="587.5" cy="312.4" r="3.5"/><circle cx="588.5" cy="325.8" r="3.5"/><circle cx="589.5" cy="332.1" r="3.5"/><circle cx="590.5" cy="344.4" r="3.5"/><circle cx="591.5" cy="353.7" r="3.5"/><circle cx="592.4" cy="357.9" r="3.5"/><circle cx="593.4" cy="365.9" r="3.5"/><circle cx="594.4" cy="369.9" r="3.5"/><circle cx="595.4" cy="371.5" r="3.5"/><circle cx="596.4" cy="372.6" r="3.5"/><circle cx="597.3" cy="373.5" r="3.5"/><circle cx="598.3" cy="373.3" r="3.5"/><circle cx="599.3" cy="373.6" r="3.5"/><circle cx="600.3" cy="375.9" r="3.5"/><circle cx="601.3" cy="376" r="3.5"/><circle cx="602.2" cy="377.5" r="3.5"/><circle cx="603.2" cy="379.4" r="3.5"/><circle cx="604.2" cy="378.6" r="3.5"/><circle cx="605.2" cy="380.7" r="3.5"/><circle cx="606.2" cy="382.7" r="3.5"/><circle cx="607.1" cy="383.6" r="3.5"/><circle cx="608.1" cy="383.4" r="3.5"/><circle cx="609.1" cy="384.9" r="3.5"/><circle cx="610.1" cy="384.6" r="3.5"/><circle cx="611.1" cy="383.7" r="3.5"/><circle cx="612" cy="384.2" r="3.5"/><circle cx="613" cy="385.8" r="3.5"/><circle cx="614" cy="385.8" r="3.5"/><circle cx="615" cy="384.2" r="3.5"/><circle cx="616" cy="387.2" r="3.5"/><circle cx="616.9" cy="387" r="3.5"/><circle cx="617.9" cy="387.9" r="3.5"/><circle cx="618.9" cy="386.7" r="3.5"/><circle cx="619.9" cy="387" r="3.5"/><circle cx="620.9" cy="386.3" r="3.5"/><circle cx="621.8" cy="389.3" r="3.5"/><circle cx="622.8" cy="387.2" r="3.5"/><circle cx="623.8" cy="388.6" r="3.5"/><circle cx="624.8" cy="386.8" r="3.5"/><circle cx="625.8" cy="387.5" r="3.5"/><circle cx="626.7" cy="386.1" r="3.5"/><circle cx="627.7" cy="387.1" r="3.5"/><circle cx="628.7" cy="388.2" r="3.5"/><circle cx="629.7" cy="386.5" r="3.5"/><circle cx="630.7" cy="388.4" r="3.5"/><circle cx="631.6" cy="387.9" r="3.5"/><circle cx="632.6" cy="386.9" r="3.5"/><circle cx="633.6" cy="387.4" r="3.5"/><circle cx="634.6" cy="387.6" r="3.5"/><circle cx="635.6" cy="388" r="3.5"/><circle cx="636.5" cy="387.8" r="3.5"/><circle cx="637.5" cy="387.7" r="3.5"/><circle cx="638.5" cy="388.2" r="3.5"/><circle cx="639.5" cy="387.8" r="3.5"/><circle cx="640.5" cy="387.7" r="3.5"/><circle cx="641.4" cy="388.8" r="3.5"/><circle cx="642.4" cy="389.6" r="3.5"/><circle cx="643.4" cy="387.7" r="3.5"/><circle cx="644.4" cy="389" r="3.5"/><circle cx="645.4" cy="388.5" r="3.5"/><circle cx="646.3" cy="388.2" r="3.5"/><circle cx="647.3" cy="389.7" r="3.5"/><circle cx="648.3" cy="388.5" r="3.5"/><circle cx="649.3" cy="390.1" r="3.5"/><circle cx="650.3" cy="388.2" r="3.5"/><circle cx="651.2" cy="389.1" r="3.5"/><circle cx="652.2" cy="388.6" r="3.5"/><circle cx="653.2" cy="388.1" r="3.5"/><circle cx="654.2" cy="389.2" r="3.5"/><circle cx="655.2" cy="388.5" r="3.5"/><circle cx="656.1" cy="389.1" r="3.5"/><circle cx="657.1" cy="388.5" r="3.5"/><circle cx="658.1" cy="387.7" r="3.5"/><circle cx="659.1" cy="388.4" r="3.5"/><circle cx="660.1" cy="388.5" r="3.5"/><circle cx="661" cy="389.3" r="3.5"/><circle cx="662" cy="387.8" r="3.5"/><circle cx="663" cy="388.5" r="3.5"/><circle cx="664" cy="387.1" r="3.5"/><circle cx="574.6" cy="232.7" r="3.5"/><circle cx="575.4" cy="206.6" r="3.5"/><circle cx="577.1" cy="182.6" r="3.5"/><circle cx="577.8" cy="152.3" r="3.5"/><circle cx="578.6" cy="127.8" r="3.5"/><circle cx="579.7" cy="108.3" r="3.5"/><circle cx="580.6" cy="121.7" r="3.5"/><circle cx="582.3" cy="133.8" r="3.5"/><circle cx="583.3" cy="156.6" r="3.5"/><circle cx="584" cy="197.8" r="3.5"/><circle cx="584.6" cy="239.6" r="3.5"/></g>
</g>
<clipPath id="c3"><rect x="785.3" y="0" width="293.9" height="1335"/></clipPath>
<g clip-path="url(#c3)">
<path d="M782 426.5 782.5 426.5 783 426.5 783.5 426.5 784 426.5 784.5 426.5 785 426.5 785.5 426.5 786 426.5 786.5 426.5 787 426.5 787.5 426.4 788 426.3 788.5 426.3 789 426.2 789.5 426.1 790 425.9 790.5 425.8 791 425.7 791.5 425.5 792 425.4 792.5 425.2 793 425.1 793.5 424.9 794 424.8 794.5 424.6 795 424.5 795.5 424.3 796 424.2 796.5 424 797 423.7 797.5 423.5 798 423.3 798.5 423 799 422.8 799.5 422.6 800 422.4 800.5 422.2 801 422.1 801.5 422 802 422 802.5 422 803 422 803.5 422.1 804 422.1 804.5 422.2 805 422.2 805.5 422.3 806 422.4 806.5 422.4 807 422.5 807.5 422.6 808 422.7 808.5 422.7 809 422.8 809.5 422.9 810 422.9 810.5 423 811 423 811.5 423 812 423 812.5 422.9 813 422.7 813.5 422.4 814 422 814.5 421.6 815 421.1 815.5 420.6 816 420.1 816.5 419.5 817 418.9 817.5 418.3 818 417.8 818.5 417.3 819 416.8 819.5 416.3 820 416 820.5 415.6 821 415.4 821.5 415.2 822 414.9 822.5 414.8 823 414.6 823.5 414.4 824 414.2 824.5 414.1 825 413.9 825.5 413.7 826 413.5 826.5 413.3 827 413 827.5 412.8 828 412.4 828.5 412 829 411.6 829.5 411 830 410.4 830.5 409.7 831 409 831.5 408.2 832 407.4 832.5 406.6 833 405.8 833.5 404.9 834 404.1 834.5 403.3 835 402.4 835.5 401.6 836 400.9 836.5 400.2 837 399.5 837.5 398.6 838 397.7 838.5 396.6 839 395.2 839.5 393.3 840 391 840.5 388.8 841 386.6 841.5 384.2 842 381.8 842.5 379.6 843 377.9 843.5 376.6 844 375.5 844.5 374.5 845 373.4 845.5 372.1 846 370.6 846.5 368.8 847 366.8 847.5 364.5 848 361.7 848.5 358.6 849 355.3 849.5 351.8 850 348.2 850.5 344.4 851 340.3 851.5 336 852 331.3 852.5 326.2 853 321.2 853.5 316.5 854 312 854.5 307.4 855 303.8 855.5 302.1 856 300.9 856.5 300 857 299.2 857.5 298.7 858 298.4 858.5 298.4 859 299 859.5 300.1 860 301.8 860.5 303.7 861 305.9 861.5 309.1 862 313.9 862.5 318.8 863 323 863.5 327 864 330.9 864.5 334.5 865 337.7 865.5 340.6 866 343.1 866.5 345.4 867 347.6 867.5 349.6 868 351.5 868.5 353.2 869 354.6 869.5 355.7 870 356.6 870.5 357.3 871 358.2 871.5 359.2 872 360.7 872.5 363.2 873 366 873.5 368.4 874 370.4 874.5 372.3 875 374.1 875.5 375.9 876 377.8 876.5 379.8 877 381.9 877.5 384 878 385.8 878.5 387.5 879 389 879.5 390.5 880 392 880.5 393.5 881 395.1 881.5 396.8 882 398.5 882.5 400.1 883 401.5 883.5 402.7 884 403.7 884.5 404.6 885 405.5 885.5 406.3 886 407 886.5 407.7 887 408.3 887.5 408.9 888 409.4 888.5 409.9 889 410.4 889.5 410.9 890 411.4 890.5 411.8 891 412.3 891.5 412.7 892 413.1 892.5 413.5 893 413.8 893.5 414.2 894 414.5 894.5 414.8 895 415.1 895.5 415.3 896 415.5 896.5 415.7 897 415.9 897.5 416.1 898 416.3 898.5 416.5 899 416.6 899.5 416.8 900 417 900.5 417.1 901 417.3 901.5 417.4 902 417.6 902.5 417.7 903 417.9 903.5 418 904 418.1 904.5 418.2 905 418.4 905.5 418.5 906 418.6 906.5 418.7 907 418.8 907.5 418.9 908 419 908.5 419.1 909 419.2 909.5 419.2 910 419.3 910.5 419.4 911 419.4 911.5 419.5 912 419.5 912.5 419.5 913 419.6 913.5 419.6 914 419.6 914.5 419.6 915 419.6 915.5 419.7 916 419.7 916.5 419.7 917 419.7 917.5 419.7 918 419.7 918.5 419.8 919 419.8 919.5 419.8 920 419.8 920.5 419.8 921 419.8 921.5 419.8 922 419.8 922.5 419.9 923 419.9 923.5 419.9 924 419.9 924.5 419.9 925 419.9 925.5 419.9 926 419.9 926.5 419.9 927 419.9 927.5 419.9 928 420 928.5 420 929 420 929.5 420 930 420 930.5 420 931 420 931.5 420 932 420 932.5 420 933 420 933.5 420 934 420 934.5 420 935 420 935.5 420 936 420 936.5 420 937 419.9 937.5 419.9 938 419.9 938.5 419.8 939 419.8 939.5 419.7 940 419.7 940.5 419.6 941 419.6 941.5 419.5 942 419.4 942.5 419.3 943 419.3 943.5 419.2 944 419.1 944.5 419 945 418.9 945.5 418.8 946 418.7 946.5 418.6 947 418.5 947.5 418.4 948 418.3 948.5 418.2 949 418.1 949.5 418 950 417.9 950.5 417.8 951 417.6 951.5 417.5 952 417.4 952.5 417.3 953 417.2 953.5 417.1 954 416.9 954.5 416.8 955 416.6 955.5 416.5 956 416.3 956.5 416.1 957 416 957.5 415.8 958 415.6 958.5 415.4 959 415.2 959.5 415 960 414.8 960.5 414.6 961 414.3 961.5 414.1 962 413.9 962.5 413.7 963 413.4 963.5 413.2 964 413 964.5 412.7 965 412.5 965.5 412.3 966 412 966.5 411.8 967 411.5 967.5 411.3 968 411.1 968.5 410.8 969 410.5 969.5 410.2 970 409.9 970.5 409.6 971 409.3 971.5 408.9 972 408.5 972.5 408.1 973 407.7 973.5 407.2 974 406.7 974.5 406 975 405.2 975.5 404.3 976 403.3 976.5 402.2 977 401.1 977.5 399.9 978 398.7 978.5 397.4 979 396.1 979.5 394.8 980 393.3 980.5 391.7 981 389.9 981.5 388.1 982 386.1 982.5 383.9 983 381.3 983.5 378.6 984 375.9 984.5 373.5 985 371.6 985.5 369.8 986 367.9 986.5 365.6 987 362.5 987.5 357 988 349.7 988.5 342.1 989 335.3 989.5 328.8 990 322 990.5 314.2 991 304.9 991.5 293.3 992 279.6 992.5 263.8 993 246.3 993.5 227.3 994 202.8 994.5 172.9 995 144.2 995.5 122.8 996 107.7 996.5 95 997 82.6 997.5 67 998 56.6 998.5 61.1 999 72.4 999.5 86.6 1000 100.4 1000.5 114.2 1001 129.2 1001.5 145.9 1002 164.3 1002.5 185.4 1003 213.5 1003.5 244.2 1004 271.4 1004.5 291 1005 308.2 1005.5 323.3 1006 335.5 1006.5 344.4 1007 350.8 1007.5 355.9 1008 360.4 1008.5 365.1 1009 369.8 1009.5 374.4 1010 378.4 1010.5 381.6 1011 384.2 1011.5 386.4 1012 388.5 1012.5 390.5 1013 392.6 1013.5 394.8 1014 396.9 1014.5 398.8 1015 400.4 1015.5 401.7 1016 402.9 1016.5 404.1 1017 405.2 1017.5 406.2 1018 407.2 1018.5 408 1019 408.9 1019.5 409.7 1020 410.4 1020.5 411.1 1021 411.8 1021.5 412.5 1022 413.1 1022.5 413.7 1023 414.3 1023.5 414.9 1024 415.5 1024.5 416.1 1025 416.6 1025.5 417.1 1026 417.6 1026.5 418 1027 418.5 1027.5 418.8 1028 419.2 1028.5 419.5 1029 419.8 1029.5 420.1 1030 420.4 1030.5 420.6 1031 420.8 1031.5 421 1032 421.2 1032.5 421.4 1033 421.6 1033.5 421.8 1034 422 1034.5 422.2 1035 422.3 1035.5 422.5 1036 422.6 1036.5 422.8 1037 422.9 1037.5 423.1 1038 423.2 1038.5 423.3 1039 423.5 1039.5 423.6 1040 423.7 1040.5 423.9 1041 424 1041.5 424.1 1042 424.3 1042.5 424.4 1043 424.6 1043.5 424.7 1044 424.9 1044.5 425 1045 425 1045.5 425 1046 424.9 1046.5 424.8 1047 424.7 1047.5 424.5 1048 424.4 1048.5 424.2 1049 424 1049.5 423.8 1050 423.5 1050.5 423.3 1051 423.1 1051.5 423 1052 422.8 1052.5 422.7 1053 422.6 1053.5 422.5 1054 422.5 1054.5 422.5 1055 422.6 1055.5 422.7 1056 422.8 1056.5 422.9 1057 423.1 1057.5 423.3 1058 423.5 1058.5 423.7 1059 424 1059.5 424.2 1060 424.4 1060.5 424.7 1061 425 1061.5 425.2 1062 425.4 1062.5 425.7 1063 425.9 1063.5 426.1 1064 426.3 1064.5 426.5 1065 426.6 1065.5 426.8 1066 427 1066.5 427.2 1067 427.4 1067.5 427.6 1068 427.8 1068.5 427.9 1069 428.1 1069.5 428.2 1070 428.3 1070.5 428.3 1071 428.3 1071.5 428.2 1072 428 1072.5 427.8 1073 427.6 1073.5 427.3 1074 427 1074.5 426.7 1075 426.5 1075.5 426.3 1076 426 1076.5 425.7 1077 425.4 1077.5 425.1 1078 424.9 1078.5 424.7 1079 424.5 1079.5 424.4 1080 424.2 1080.5 424.1 1081 424 1081.5 423.9 1082 423.8 1082.5 423.7 1083 423.6" fill="none" stroke="#000" stroke-width="1.3" stroke-linejoin="round"/>
<g fill="#000"><circle cx="784" cy="427" r="4.0"/><circle cx="786.1" cy="425.6" r="4.0"/><circle cx="788.3" cy="424.8" r="4.0"/><circle cx="790.5" cy="425.8" r="4.0"/><circle cx="792.7" cy="426.1" r="4.0"/><circle cx="794.9" cy="423.3" r="4.0"/><circle cx="797" cy="422.8" r="4.0"/><circle cx="799.2" cy="422.1" r="4.0"/><circle cx="801.4" cy="421.1" r="4.0"/><circle cx="803.6" cy="422.4" r="4.0"/><circle cx="805.8" cy="421.7" r="4.0"/><circle cx="807.9" cy="422.1" r="4.0"/><circle cx="810.1" cy="423.4" r="4.0"/><circle cx="812.3" cy="422.3" r="4.0"/><circle cx="814.5" cy="422" r="4.0"/><circle cx="816.7" cy="418.5" r="4.0"/><circle cx="818.8" cy="416" r="4.0"/><circle cx="821" cy="413.9" r="4.0"/><circle cx="823.2" cy="416" r="4.0"/><circle cx="825.4" cy="413.5" r="4.0"/><circle cx="827.6" cy="412.9" r="4.0"/><circle cx="829.7" cy="410.7" r="4.0"/><circle cx="831.9" cy="407.7" r="4.0"/><circle cx="834.1" cy="404" r="4.0"/><circle cx="836.3" cy="402" r="4.0"/><circle cx="838.5" cy="395.9" r="4.0"/><circle cx="840.6" cy="386.9" r="4.0"/><circle cx="842.8" cy="377.6" r="4.0"/><circle cx="845" cy="372.4" r="4.0"/><circle cx="847.2" cy="366.6" r="4.0"/><circle cx="849.4" cy="353" r="4.0"/><circle cx="851.5" cy="335.4" r="4.0"/><circle cx="853.7" cy="314.2" r="4.0"/><circle cx="855.9" cy="300.9" r="4.0"/><circle cx="858.1" cy="299.4" r="4.0"/><circle cx="860.3" cy="300.5" r="4.0"/><circle cx="862.4" cy="318.4" r="4.0"/><circle cx="864.6" cy="335.1" r="4.0"/><circle cx="866.8" cy="347.6" r="4.0"/><circle cx="869" cy="353.7" r="4.0"/><circle cx="871.2" cy="358.2" r="4.0"/><circle cx="873.3" cy="366.5" r="4.0"/><circle cx="875.5" cy="375.2" r="4.0"/><circle cx="877.7" cy="385.8" r="4.0"/><circle cx="879.9" cy="392.3" r="4.0"/><circle cx="882.1" cy="398.3" r="4.0"/><circle cx="884.2" cy="403.4" r="4.0"/><circle cx="886.4" cy="406.1" r="4.0"/><circle cx="888.6" cy="409.7" r="4.0"/><circle cx="890.8" cy="412" r="4.0"/><circle cx="893" cy="413.7" r="4.0"/><circle cx="895.1" cy="415.1" r="4.0"/><circle cx="897.3" cy="415.1" r="4.0"/><circle cx="899.5" cy="416.7" r="4.0"/><circle cx="901.7" cy="417.4" r="4.0"/><circle cx="903.9" cy="419.1" r="4.0"/><circle cx="906" cy="420.1" r="4.0"/><circle cx="908.2" cy="418.9" r="4.0"/><circle cx="910.4" cy="418.7" r="4.0"/><circle cx="912.6" cy="419.5" r="4.0"/><circle cx="914.8" cy="419.2" r="4.0"/><circle cx="916.9" cy="419.1" r="4.0"/><circle cx="919.1" cy="419.7" r="4.0"/><circle cx="921.3" cy="419" r="4.0"/><circle cx="923.5" cy="420.4" r="4.0"/><circle cx="925.7" cy="419.8" r="4.0"/><circle cx="927.8" cy="420.2" r="4.0"/><circle cx="930" cy="419.8" r="4.0"/><circle cx="932.2" cy="419.4" r="4.0"/><circle cx="934.4" cy="419.2" r="4.0"/><circle cx="936.6" cy="419.8" r="4.0"/><circle cx="938.7" cy="419.4" r="4.0"/><circle cx="940.9" cy="419.8" r="4.0"/><circle cx="943.1" cy="419.2" r="4.0"/><circle cx="945.3" cy="417.8" r="4.0"/><circle cx="947.5" cy="418.5" r="4.0"/><circle cx="949.6" cy="416.9" r="4.0"/><circle cx="951.8" cy="417" r="4.0"/><circle cx="954" cy="416.7" r="4.0"/><circle cx="956.2" cy="414.6" r="4.0"/><circle cx="958.4" cy="415.5" r="4.0"/><circle cx="960.5" cy="414.7" r="4.0"/><circle cx="962.7" cy="413.4" r="4.0"/><circle cx="964.9" cy="412.2" r="4.0"/><circle cx="967.1" cy="411.2" r="4.0"/><circle cx="969.3" cy="409.6" r="4.0"/><circle cx="971.4" cy="408.8" r="4.0"/><circle cx="973.6" cy="406.6" r="4.0"/><circle cx="975.8" cy="403.8" r="4.0"/><circle cx="978" cy="397.8" r="4.0"/><circle cx="980.2" cy="393" r="4.0"/><circle cx="982.3" cy="384.8" r="4.0"/><circle cx="984.5" cy="373.3" r="4.0"/><circle cx="986.7" cy="364.1" r="4.0"/><circle cx="988.9" cy="337" r="4.0"/><circle cx="991.1" cy="303.2" r="4.0"/><circle cx="1006.3" cy="341.8" r="4.0"/><circle cx="1008.5" cy="365.2" r="4.0"/><circle cx="1010.7" cy="382.7" r="4.0"/><circle cx="1012.9" cy="390.7" r="4.0"/><circle cx="1015" cy="400.9" r="4.0"/><circle cx="1017.2" cy="406.6" r="4.0"/><circle cx="1019.4" cy="410.3" r="4.0"/><circle cx="1021.6" cy="412.8" r="4.0"/><circle cx="1023.8" cy="414" r="4.0"/><circle cx="1025.9" cy="418.3" r="4.0"/><circle cx="1028.1" cy="419.2" r="4.0"/><circle cx="1030.3" cy="418.5" r="4.0"/><circle cx="1032.5" cy="421.7" r="4.0"/><circle cx="1034.7" cy="421" r="4.0"/><circle cx="1036.8" cy="421.8" r="4.0"/><circle cx="1039" cy="423" r="4.0"/><circle cx="1041.2" cy="425.1" r="4.0"/><circle cx="1043.4" cy="424.4" r="4.0"/><circle cx="1045.6" cy="425.2" r="4.0"/><circle cx="1047.7" cy="425.8" r="4.0"/><circle cx="1049.9" cy="424.9" r="4.0"/><circle cx="1052.1" cy="422.7" r="4.0"/><circle cx="1054.3" cy="422.3" r="4.0"/><circle cx="1056.5" cy="421.9" r="4.0"/><circle cx="1058.6" cy="423.2" r="4.0"/><circle cx="1060.8" cy="425.2" r="4.0"/><circle cx="1063" cy="426.2" r="4.0"/><circle cx="1065.2" cy="426.8" r="4.0"/><circle cx="1067.4" cy="428.4" r="4.0"/><circle cx="1069.5" cy="427.6" r="4.0"/><circle cx="1071.7" cy="428.1" r="4.0"/><circle cx="1073.9" cy="427.7" r="4.0"/><circle cx="1076.1" cy="426.4" r="4.0"/><circle cx="1078.3" cy="425.6" r="4.0"/><circle cx="1080.4" cy="424.5" r="4.0"/><circle cx="1082.6" cy="423.5" r="4.0"/><circle cx="993.5" cy="227.3" r="4.0"/><circle cx="995.4" cy="126.3" r="4.0"/><circle cx="997.6" cy="76.6" r="4.0"/><circle cx="999.9" cy="97.8" r="4.0"/><circle cx="1002.3" cy="176.3" r="4.0"/><circle cx="1004.2" cy="279.9" r="4.0"/></g>
</g>
<clipPath id="c4"><rect x="1089.7" y="0" width="294.7" height="1335"/></clipPath>
<g clip-path="url(#c4)">
<path d="M1086 425.7 1086.5 425.7 1087 425.7 1087.5 425.7 1088 425.7 1088.5 425.7 1089 425.7 1089.5 425.7 1090 425.7 1090.5 425.7 1091 425.7 1091.5 425.7 1092 425.6 1092.5 425.6 1093 425.5 1093.5 425.4 1094 425.3 1094.5 425.2 1095 425.1 1095.5 425 1096 424.9 1096.5 424.8 1097 424.7 1097.5 424.6 1098 424.4 1098.5 424.3 1099 424.2 1099.5 424.1 1100 424 1100.5 423.9 1101 423.8 1101.5 423.7 1102 423.6 1102.5 423.4 1103 423.3 1103.5 423.2 1104 423.1 1104.5 422.9 1105 422.8 1105.5 422.7 1106 422.6 1106.5 422.5 1107 422.4 1107.5 422.3 1108 422.2 1108.5 422.1 1109 422 1109.5 422 1110 421.9 1110.5 421.8 1111 421.7 1111.5 421.7 1112 421.6 1112.5 421.5 1113 421.4 1113.5 421.3 1114 421.2 1114.5 421.1 1115 421 1115.5 420.9 1116 420.7 1116.5 420.6 1117 420.4 1117.5 420.2 1118 419.9 1118.5 419.5 1119 419.1 1119.5 418.7 1120 418.3 1120.5 417.9 1121 417.4 1121.5 417 1122 416.6 1122.5 416.2 1123 415.7 1123.5 415.2 1124 414.8 1124.5 414.3 1125 413.8 1125.5 413.2 1126 412.7 1126.5 412.1 1127 411.5 1127.5 410.9 1128 410.3 1128.5 409.6 1129 408.9 1129.5 408.1 1130 407.3 1130.5 406.4 1131 405.5 1131.5 404.5 1132 403.5 1132.5 402.5 1133 401.5 1133.5 400.5 1134 399.4 1134.5 398.3 1135 397.2 1135.5 395.9 1136 394.6 1136.5 393.2 1137 391.6 1137.5 389.7 1138 387.4 1138.5 385.1 1139 382.9 1139.5 380.5 1140 378.2 1140.5 376.4 1141 375.2 1141.5 374.3 1142 373.5 1142.5 372.8 1143 372.2 1143.5 371.9 1144 371.7 1144.5 371.7 1145 371.7 1145.5 371.8 1146 371.9 1146.5 372 1147 372.1 1147.5 372.3 1148 372.4 1148.5 372.7 1149 373 1149.5 373.4 1150 373.9 1150.5 374.4 1151 375.1 1151.5 375.8 1152 376.5 1152.5 377.7 1153 379.2 1153.5 380.9 1154 382.5 1154.5 383.8 1155 385.2 1155.5 386.5 1156 387.8 1156.5 388.9 1157 389.9 1157.5 390.7 1158 391.4 1158.5 392.1 1159 392.7 1159.5 393.3 1160 393.9 1160.5 394.4 1161 395 1161.5 395.6 1162 396.2 1162.5 396.7 1163 397.3 1163.5 397.8 1164 398.4 1164.5 399 1165 399.6 1165.5 400.3 1166 401.1 1166.5 401.9 1167 402.8 1167.5 403.7 1168 404.6 1168.5 405.4 1169 406.2 1169.5 407 1170 407.8 1170.5 408.5 1171 409.3 1171.5 410 1172 410.6 1172.5 411.2 1173 411.6 1173.5 412 1174 412.3 1174.5 412.6 1175 412.9 1175.5 413.1 1176 413.3 1176.5 413.6 1177 413.8 1177.5 414 1178 414.2 1178.5 414.4 1179 414.6 1179.5 414.8 1180 415.1 1180.5 415.3 1181 415.5 1181.5 415.7 1182 415.9 1182.5 416.1 1183 416.4 1183.5 416.6 1184 416.8 1184.5 417 1185 417.2 1185.5 417.4 1186 417.6 1186.5 417.8 1187 418 1187.5 418.2 1188 418.4 1188.5 418.6 1189 418.8 1189.5 419 1190 419.2 1190.5 419.4 1191 419.6 1191.5 419.8 1192 420 1192.5 420.2 1193 420.4 1193.5 420.5 1194 420.7 1194.5 420.9 1195 421.1 1195.5 421.2 1196 421.4 1196.5 421.5 1197 421.7 1197.5 421.8 1198 421.9 1198.5 422.1 1199 422.2 1199.5 422.3 1200 422.5 1200.5 422.6 1201 422.7 1201.5 422.8 1202 422.9 1202.5 423 1203 423.1 1203.5 423.2 1204 423.3 1204.5 423.4 1205 423.5 1205.5 423.6 1206 423.7 1206.5 423.7 1207 423.8 1207.5 423.9 1208 424 1208.5 424.1 1209 424.1 1209.5 424.2 1210 424.3 1210.5 424.3 1211 424.4 1211.5 424.4 1212 424.5 1212.5 424.5 1213 424.6 1213.5 424.6 1214 424.6 1214.5 424.7 1215 424.7 1215.5 424.7 1216 424.7 1216.5 424.8 1217 424.8 1217.5 424.8 1218 424.8 1218.5 424.9 1219 424.9 1219.5 424.9 1220 424.9 1220.5 425 1221 425 1221.5 425 1222 425 1222.5 425 1223 425.1 1223.5 425.1 1224 425.1 1224.5 425.1 1225 425.1 1225.5 425.1 1226 425.2 1226.5 425.2 1227 425.2 1227.5 425.2 1228 425.2 1228.5 425.2 1229 425.2 1229.5 425.2 1230 425.3 1230.5 425.3 1231 425.3 1231.5 425.3 1232 425.3 1232.5 425.3 1233 425.3 1233.5 425.3 1234 425.3 1234.5 425.3 1235 425.3 1235.5 425.3 1236 425.3 1236.5 425.3 1237 425.3 1237.5 425.3 1238 425.3 1238.5 425.3 1239 425.3 1239.5 425.3 1240 425.2 1240.5 425.2 1241 425.2 1241.5 425.2 1242 425.2 1242.5 425.2 1243 425.2 1243.5 425.1 1244 425.1 1244.5 425.1 1245 425.1 1245.5 425.1 1246 425 1246.5 425 1247 425 1247.5 425 1248 425 1248.5 424.9 1249 424.9 1249.5 424.9 1250 424.9 1250.5 424.8 1251 424.8 1251.5 424.8 1252 424.8 1252.5 424.7 1253 424.7 1253.5 424.7 1254 424.6 1254.5 424.6 1255 424.6 1255.5 424.6 1256 424.5 1256.5 424.5 1257 424.5 1257.5 424.4 1258 424.4 1258.5 424.3 1259 424.3 1259.5 424.2 1260 424.2 1260.5 424.1 1261 424.1 1261.5 424 1262 423.9 1262.5 423.9 1263 423.8 1263.5 423.8 1264 423.7 1264.5 423.7 1265 423.6 1265.5 423.5 1266 423.5 1266.5 423.5 1267 423.4 1267.5 423.4 1268 423.3 1268.5 423.3 1269 423.2 1269.5 423.2 1270 423.1 1270.5 423.1 1271 423 1271.5 423 1272 422.9 1272.5 422.9 1273 422.9 1273.5 422.8 1274 422.8 1274.5 422.8 1275 422.7 1275.5 422.7 1276 422.7 1276.5 422.7 1277 422.6 1277.5 422.6 1278 422.6 1278.5 422.6 1279 422.5 1279.5 422.5 1280 422.5 1280.5 422.4 1281 422.4 1281.5 422.3 1282 422.3 1282.5 422.2 1283 422 1283.5 421.8 1284 421.5 1284.5 421.3 1285 421 1285.5 420.7 1286 420.5 1286.5 420.2 1287 420 1287.5 419.9 1288 419.8 1288.5 419.8 1289 419.7 1289.5 419.7 1290 419.7 1290.5 419.7 1291 419.7 1291.5 419.7 1292 419.7 1292.5 419.6 1293 419.6 1293.5 419.5 1294 419.4 1294.5 419.2 1295 419 1295.5 418.8 1296 418.5 1296.5 418.2 1297 417.8 1297.5 417.3 1298 416.7 1298.5 416.1 1299 415.5 1299.5 414.8 1300 414.2 1300.5 413.5 1301 412.9 1301.5 412.4 1302 411.8 1302.5 411.2 1303 410.6 1303.5 410 1304 409.2 1304.5 408.5 1305 407.6 1305.5 406.5 1306 405.4 1306.5 404.1 1307 402.9 1307.5 401.6 1308 400.3 1308.5 399.2 1309 398.2 1309.5 396.8 1310 395 1310.5 390.9 1311 386.1 1311.5 382.3 1312 378.9 1312.5 375.7 1313 372.6 1313.5 369.6 1314 366.8 1314.5 363.7 1315 359.7 1315.5 352.9 1316 344.3 1316.5 334.4 1317 324 1317.5 315.4 1318 307.5 1318.5 297 1319 277.4 1319.5 255.2 1320 236.8 1320.5 218.5 1321 197.7 1321.5 166.3 1322 146 1322.5 138.5 1323 133.8 1323.5 132.6 1324 135.2 1324.5 140.8 1325 150 1325.5 173.6 1326 203.1 1326.5 232.2 1327 262.8 1327.5 283.7 1328 297.4 1328.5 309.5 1329 324.2 1329.5 341.6 1330 351 1330.5 356.5 1331 362.1 1331.5 369.9 1332 376.6 1332.5 380.3 1333 383 1333.5 385.5 1334 388.4 1334.5 391.6 1335 394.3 1335.5 395.7 1336 396.5 1336.5 396.9 1337 397.3 1337.5 397.6 1338 398 1338.5 398.6 1339 399.5 1339.5 402.4 1340 407.9 1340.5 410.9 1341 413.3 1341.5 414.8 1342 415.5 1342.5 416.1 1343 416.6 1343.5 416.9 1344 417.2 1344.5 417.5 1345 417.8 1345.5 418.1 1346 418.4 1346.5 418.8 1347 419.1 1347.5 419.4 1348 419.7 1348.5 420 1349 420.2 1349.5 420.4 1350 420.5 1350.5 420.6 1351 420.7 1351.5 420.7 1352 420.8 1352.5 420.8 1353 420.9 1353.5 420.9 1354 420.9 1354.5 421 1355 421 1355.5 421 1356 421.1 1356.5 421.1 1357 421.1 1357.5 421.2 1358 421.2 1358.5 421.3 1359 421.4 1359.5 421.4 1360 421.6 1360.5 421.8 1361 422 1361.5 422.3 1362 422.6 1362.5 422.9 1363 423.3 1363.5 423.7 1364 424 1364.5 424.3 1365 424.7 1365.5 425 1366 425.2 1366.5 425.4 1367 425.6 1367.5 425.7 1368 425.7 1368.5 425.7 1369 425.7 1369.5 425.7 1370 425.7 1370.5 425.7 1371 425.7 1371.5 425.7 1372 425.7 1372.5 425.7 1373 425.7 1373.5 425.7 1374 425.7 1374.5 425.7 1375 425.7 1375.5 425.7 1376 425.7 1376.5 425.7 1377 425.7 1377.5 425.7 1378 425.7 1378.5 425.7 1379 425.7 1379.5 425.7 1380 425.7 1380.5 425.7 1381 425.7 1381.5 425.7 1382 425.7 1382.5 425.7 1383 425.7 1383.5 425.7 1384 425.7 1384.5 425.7 1385 425.7 1385.5 425.7 1386 425.7 1386.5 425.7 1387 425.7 1387.5 425.7 1388 425.7" fill="none" stroke="#000" stroke-width="1.3" stroke-linejoin="round"/>
<g fill="#000"><circle cx="1087.2" cy="426" r="4.0"/><circle cx="1088.4" cy="424.9" r="4.0"/><circle cx="1089.7" cy="424.4" r="4.0"/><circle cx="1090.9" cy="426.2" r="4.0"/><circle cx="1092.2" cy="425.6" r="4.0"/><circle cx="1093.4" cy="425.7" r="4.0"/><circle cx="1094.7" cy="423.9" r="4.0"/><circle cx="1095.9" cy="424.7" r="4.0"/><circle cx="1097.2" cy="424.2" r="4.0"/><circle cx="1098.4" cy="423.7" r="4.0"/><circle cx="1099.7" cy="422.3" r="4.0"/><circle cx="1100.9" cy="423.5" r="4.0"/><circle cx="1102.2" cy="424.2" r="4.0"/><circle cx="1103.4" cy="423.5" r="4.0"/><circle cx="1104.7" cy="422.4" r="4.0"/><circle cx="1105.9" cy="422.6" r="4.0"/><circle cx="1107.2" cy="423" r="4.0"/><circle cx="1108.4" cy="419.9" r="4.0"/><circle cx="1109.7" cy="421.8" r="4.0"/><circle cx="1110.9" cy="422.2" r="4.0"/><circle cx="1112.2" cy="422.1" r="4.0"/><circle cx="1113.4" cy="422.7" r="4.0"/><circle cx="1114.7" cy="422" r="4.0"/><circle cx="1115.9" cy="421" r="4.0"/><circle cx="1117.2" cy="420.6" r="4.0"/><circle cx="1118.4" cy="420.2" r="4.0"/><circle cx="1119.7" cy="418.1" r="4.0"/><circle cx="1120.9" cy="417.5" r="4.0"/><circle cx="1122.2" cy="417.2" r="4.0"/><circle cx="1123.4" cy="416.9" r="4.0"/><circle cx="1124.7" cy="414" r="4.0"/><circle cx="1125.9" cy="412.8" r="4.0"/><circle cx="1127.2" cy="411.5" r="4.0"/><circle cx="1128.4" cy="410.8" r="4.0"/><circle cx="1129.7" cy="407.8" r="4.0"/><circle cx="1130.9" cy="406.8" r="4.0"/><circle cx="1132.2" cy="402.5" r="4.0"/><circle cx="1133.4" cy="400.5" r="4.0"/><circle cx="1134.7" cy="397.8" r="4.0"/><circle cx="1135.9" cy="395.5" r="4.0"/><circle cx="1137.2" cy="391.9" r="4.0"/><circle cx="1138.4" cy="384.3" r="4.0"/><circle cx="1139.7" cy="379.1" r="4.0"/><circle cx="1140.9" cy="375.7" r="4.0"/><circle cx="1142.2" cy="372.7" r="4.0"/><circle cx="1143.4" cy="370.7" r="4.0"/><circle cx="1144.7" cy="372.5" r="4.0"/><circle cx="1145.9" cy="372.3" r="4.0"/><circle cx="1147.2" cy="372.6" r="4.0"/><circle cx="1148.4" cy="372.2" r="4.0"/><circle cx="1149.7" cy="374.3" r="4.0"/><circle cx="1150.9" cy="374.7" r="4.0"/><circle cx="1152.2" cy="377.7" r="4.0"/><circle cx="1153.4" cy="379.8" r="4.0"/><circle cx="1154.7" cy="383.6" r="4.0"/><circle cx="1155.9" cy="387.7" r="4.0"/><circle cx="1157.2" cy="389.6" r="4.0"/><circle cx="1158.4" cy="392.5" r="4.0"/><circle cx="1159.7" cy="393.7" r="4.0"/><circle cx="1160.9" cy="394.2" r="4.0"/><circle cx="1162.2" cy="396.4" r="4.0"/><circle cx="1163.4" cy="397.4" r="4.0"/><circle cx="1164.7" cy="399.9" r="4.0"/><circle cx="1165.9" cy="400.4" r="4.0"/><circle cx="1167.2" cy="402.7" r="4.0"/><circle cx="1168.4" cy="406.2" r="4.0"/><circle cx="1169.7" cy="409" r="4.0"/><circle cx="1170.9" cy="410.7" r="4.0"/><circle cx="1172.2" cy="410.8" r="4.0"/><circle cx="1173.4" cy="412.1" r="4.0"/><circle cx="1174.7" cy="413.9" r="4.0"/><circle cx="1175.9" cy="413.2" r="4.0"/><circle cx="1177.2" cy="413.1" r="4.0"/><circle cx="1178.4" cy="414.5" r="4.0"/><circle cx="1179.7" cy="415.3" r="4.0"/><circle cx="1180.9" cy="414.8" r="4.0"/><circle cx="1182.2" cy="414.7" r="4.0"/><circle cx="1183.4" cy="415.4" r="4.0"/><circle cx="1184.7" cy="417.6" r="4.0"/><circle cx="1185.9" cy="416.9" r="4.0"/><circle cx="1187.2" cy="417.9" r="4.0"/><circle cx="1188.4" cy="418.7" r="4.0"/><circle cx="1189.7" cy="419.5" r="4.0"/><circle cx="1190.9" cy="419.3" r="4.0"/><circle cx="1192.2" cy="420.4" r="4.0"/><circle cx="1193.4" cy="419.8" r="4.0"/><circle cx="1194.7" cy="420.7" r="4.0"/><circle cx="1195.9" cy="420.5" r="4.0"/><circle cx="1197.2" cy="422.6" r="4.0"/><circle cx="1198.4" cy="422" r="4.0"/><circle cx="1199.7" cy="421.8" r="4.0"/><circle cx="1200.9" cy="422.4" r="4.0"/><circle cx="1202.2" cy="422.8" r="4.0"/><circle cx="1203.4" cy="423.8" r="4.0"/><circle cx="1204.7" cy="422.2" r="4.0"/><circle cx="1205.9" cy="422.8" r="4.0"/><circle cx="1207.2" cy="423.5" r="4.0"/><circle cx="1208.4" cy="426.1" r="4.0"/><circle cx="1209.7" cy="425" r="4.0"/><circle cx="1210.9" cy="424.3" r="4.0"/><circle cx="1212.2" cy="425.1" r="4.0"/><circle cx="1213.4" cy="426.2" r="4.0"/><circle cx="1214.7" cy="424.5" r="4.0"/><circle cx="1215.9" cy="424.4" r="4.0"/><circle cx="1217.2" cy="425.8" r="4.0"/><circle cx="1218.4" cy="425.2" r="4.0"/><circle cx="1219.7" cy="425.5" r="4.0"/><circle cx="1220.9" cy="424.6" r="4.0"/><circle cx="1222.2" cy="426.6" r="4.0"/><circle cx="1223.4" cy="426.4" r="4.0"/><circle cx="1224.7" cy="425.6" r="4.0"/><circle cx="1225.9" cy="425.7" r="4.0"/><circle cx="1227.2" cy="423.6" r="4.0"/><circle cx="1228.4" cy="425.7" r="4.0"/><circle cx="1229.7" cy="425.1" r="4.0"/><circle cx="1230.9" cy="425.6" r="4.0"/><circle cx="1232.2" cy="425.8" r="4.0"/><circle cx="1233.4" cy="425" r="4.0"/><circle cx="1234.7" cy="423.9" r="4.0"/><circle cx="1235.9" cy="425.6" r="4.0"/><circle cx="1237.2" cy="424.7" r="4.0"/><circle cx="1238.4" cy="425" r="4.0"/><circle cx="1239.7" cy="424.8" r="4.0"/><circle cx="1240.9" cy="424.9" r="4.0"/><circle cx="1242.2" cy="423.3" r="4.0"/><circle cx="1243.4" cy="426.1" r="4.0"/><circle cx="1244.7" cy="425.3" r="4.0"/><circle cx="1245.9" cy="425.9" r="4.0"/><circle cx="1247.2" cy="426.6" r="4.0"/><circle cx="1248.4" cy="425" r="4.0"/><circle cx="1249.7" cy="423.4" r="4.0"/><circle cx="1250.9" cy="424.1" r="4.0"/><circle cx="1252.2" cy="423.8" r="4.0"/><circle cx="1253.4" cy="424.3" r="4.0"/><circle cx="1254.7" cy="424.7" r="4.0"/><circle cx="1255.9" cy="422.9" r="4.0"/><circle cx="1257.2" cy="424.7" r="4.0"/><circle cx="1258.4" cy="423.1" r="4.0"/><circle cx="1259.7" cy="424.5" r="4.0"/><circle cx="1260.9" cy="424" r="4.0"/><circle cx="1262.2" cy="423.7" r="4.0"/><circle cx="1263.4" cy="423.7" r="4.0"/><circle cx="1264.7" cy="423.2" r="4.0"/><circle cx="1265.9" cy="423" r="4.0"/><circle cx="1267.2" cy="422" r="4.0"/><circle cx="1268.4" cy="423.2" r="4.0"/><circle cx="1269.7" cy="424.6" r="4.0"/><circle cx="1270.9" cy="424.6" r="4.0"/><circle cx="1272.2" cy="424" r="4.0"/><circle cx="1273.4" cy="423.4" r="4.0"/><circle cx="1274.7" cy="422.2" r="4.0"/><circle cx="1275.9" cy="423.8" r="4.0"/><circle cx="1277.2" cy="422.6" r="4.0"/><circle cx="1278.4" cy="422.5" r="4.0"/><circle cx="1279.7" cy="422.3" r="4.0"/><circle cx="1280.9" cy="422.5" r="4.0"/><circle cx="1282.2" cy="421.9" r="4.0"/><circle cx="1283.4" cy="421.8" r="4.0"/><circle cx="1284.7" cy="420.3" r="4.0"/><circle cx="1285.9" cy="420.2" r="4.0"/><circle cx="1287.2" cy="421.8" r="4.0"/><circle cx="1288.4" cy="419.7" r="4.0"/><circle cx="1289.7" cy="419.5" r="4.0"/><circle cx="1290.9" cy="420.1" r="4.0"/><circle cx="1292.2" cy="420.2" r="4.0"/><circle cx="1293.4" cy="418.7" r="4.0"/><circle cx="1294.7" cy="419" r="4.0"/><circle cx="1295.9" cy="419.3" r="4.0"/><circle cx="1297.2" cy="417.8" r="4.0"/><circle cx="1298.4" cy="416.3" r="4.0"/><circle cx="1299.7" cy="415.9" r="4.0"/><circle cx="1300.9" cy="412.5" r="4.0"/><circle cx="1302.2" cy="411.7" r="4.0"/><circle cx="1303.4" cy="409.7" r="4.0"/><circle cx="1304.7" cy="409.4" r="4.0"/><circle cx="1305.9" cy="404.1" r="4.0"/><circle cx="1307.2" cy="401.9" r="4.0"/><circle cx="1308.4" cy="399" r="4.0"/><circle cx="1309.7" cy="396.9" r="4.0"/><circle cx="1310.9" cy="387" r="4.0"/><circle cx="1312.2" cy="378.2" r="4.0"/><circle cx="1313.4" cy="369.8" r="4.0"/><circle cx="1314.7" cy="362.8" r="4.0"/><circle cx="1315.9" cy="346" r="4.0"/><circle cx="1330.9" cy="360.5" r="4.0"/><circle cx="1332.2" cy="377.7" r="4.0"/><circle cx="1333.4" cy="384.3" r="4.0"/><circle cx="1334.7" cy="391.6" r="4.0"/><circle cx="1335.9" cy="396.7" r="4.0"/><circle cx="1337.2" cy="396.9" r="4.0"/><circle cx="1338.4" cy="396.9" r="4.0"/><circle cx="1339.7" cy="404.4" r="4.0"/><circle cx="1340.9" cy="412.8" r="4.0"/><circle cx="1342.2" cy="416" r="4.0"/><circle cx="1343.4" cy="416.9" r="4.0"/><circle cx="1344.7" cy="418.1" r="4.0"/><circle cx="1345.9" cy="418.4" r="4.0"/><circle cx="1347.2" cy="420.2" r="4.0"/><circle cx="1348.4" cy="420.3" r="4.0"/><circle cx="1349.7" cy="420.7" r="4.0"/><circle cx="1350.9" cy="421" r="4.0"/><circle cx="1352.2" cy="419.6" r="4.0"/><circle cx="1353.4" cy="420.8" r="4.0"/><circle cx="1354.7" cy="420.8" r="4.0"/><circle cx="1355.9" cy="421.2" r="4.0"/><circle cx="1357.2" cy="420.1" r="4.0"/><circle cx="1358.4" cy="422.6" r="4.0"/><circle cx="1359.7" cy="421.6" r="4.0"/><circle cx="1360.9" cy="421" r="4.0"/><circle cx="1362.2" cy="421.3" r="4.0"/><circle cx="1363.4" cy="423.4" r="4.0"/><circle cx="1364.7" cy="424.4" r="4.0"/><circle cx="1365.9" cy="424.6" r="4.0"/><circle cx="1367.2" cy="425.7" r="4.0"/><circle cx="1368.4" cy="425.2" r="4.0"/><circle cx="1369.7" cy="426.1" r="4.0"/><circle cx="1370.9" cy="425.1" r="4.0"/><circle cx="1372.2" cy="425.7" r="4.0"/><circle cx="1373.4" cy="426.5" r="4.0"/><circle cx="1374.7" cy="427.8" r="4.0"/><circle cx="1375.9" cy="424.9" r="4.0"/><circle cx="1377.2" cy="425.3" r="4.0"/><circle cx="1378.4" cy="425" r="4.0"/><circle cx="1379.7" cy="426.3" r="4.0"/><circle cx="1380.9" cy="424.8" r="4.0"/><circle cx="1382.2" cy="425.3" r="4.0"/><circle cx="1383.4" cy="425.7" r="4.0"/><circle cx="1384.7" cy="424.9" r="4.0"/><circle cx="1385.9" cy="424.9" r="4.0"/><circle cx="1387.2" cy="425.3" r="4.0"/><circle cx="1317.1" cy="322.1" r="4.0"/><circle cx="1318.5" cy="297" r="4.0"/><circle cx="1319.4" cy="259.2" r="4.0"/><circle cx="1321" cy="197.7" r="4.0"/><circle cx="1321.9" cy="147.8" r="4.0"/><circle cx="1323.4" cy="124.7" r="4.0"/><circle cx="1324.8" cy="145.1" r="4.0"/><circle cx="1326.1" cy="208.5" r="4.0"/><circle cx="1327.3" cy="276.8" r="4.0"/><circle cx="1328.8" cy="317.6" r="4.0"/><circle cx="1329.7" cy="346.4" r="4.0"/></g>
</g>
<clipPath id="c5"><rect x="448" y="0" width="291.8" height="1335"/></clipPath>
<g clip-path="url(#c5)">
<path d="M445 1079.7 445.5 1079.7 446 1079.7 446.5 1079.7 447 1079.7 447.5 1079.7 448 1079.7 448.5 1079.7 449 1079.7 449.5 1079.7 450 1079.7 450.5 1079.7 451 1079.6 451.5 1079.6 452 1079.5 452.5 1079.5 453 1079.4 453.5 1079.4 454 1079.3 454.5 1079.2 455 1079.1 455.5 1079 456 1078.9 456.5 1078.8 457 1078.7 457.5 1078.6 458 1078.5 458.5 1078.4 459 1078.3 459.5 1078.1 460 1078 460.5 1077.9 461 1077.8 461.5 1077.6 462 1077.5 462.5 1077.4 463 1077.3 463.5 1077.1 464 1077 464.5 1076.9 465 1076.8 465.5 1076.6 466 1076.5 466.5 1076.4 467 1076.3 467.5 1076.2 468 1076.1 468.5 1076 469 1075.9 469.5 1075.8 470 1075.7 470.5 1075.7 471 1075.6 471.5 1075.5 472 1075.4 472.5 1075.4 473 1075.3 473.5 1075.2 474 1075.1 474.5 1075.1 475 1075 475.5 1074.9 476 1074.9 476.5 1074.8 477 1074.7 477.5 1074.6 478 1074.5 478.5 1074.5 479 1074.4 479.5 1074.3 480 1074.2 480.5 1074.1 481 1074 481.5 1073.8 482 1073.7 482.5 1073.6 483 1073.5 483.5 1073.3 484 1073.2 484.5 1073 485 1072.9 485.5 1072.7 486 1072.5 486.5 1072.4 487 1072.2 487.5 1071.9 488 1071.7 488.5 1071.5 489 1071.2 489.5 1070.9 490 1070.7 490.5 1070.3 491 1069.9 491.5 1069.4 492 1068.8 492.5 1068.1 493 1067.5 493.5 1066.7 494 1066 494.5 1065.3 495 1064.6 495.5 1063.9 496 1063.2 496.5 1062.6 497 1062 497.5 1061.5 498 1061 498.5 1060.4 499 1059.9 499.5 1059.3 500 1058.7 500.5 1058 501 1057.2 501.5 1056.3 502 1055.2 502.5 1053.6 503 1051.7 503.5 1049.5 504 1047.4 504.5 1045.5 505 1044 505.5 1043 506 1042.1 506.5 1041.1 507 1039.6 507.5 1036.5 508 1031.6 508.5 1026.3 509 1022.1 509.5 1019.4 510 1017.1 510.5 1014.5 511 1009.7 511.5 1001 512 993.6 512.5 992 513 992 513.5 992 514 992 514.5 992.1 515 992.1 515.5 992.2 516 992.4 516.5 992.5 517 1002.6 517.5 1005.3 518 1006.7 518.5 1007.6 519 1008.1 519.5 1008.5 520 1008.9 520.5 1009.6 521 1011.2 521.5 1015 522 1019.7 522.5 1023.9 523 1027.2 523.5 1030.3 524 1033.2 524.5 1035.8 525 1038.4 525.5 1040.8 526 1042.9 526.5 1044.6 527 1046.1 527.5 1047.3 528 1048.5 528.5 1049.5 529 1050.4 529.5 1051.2 530 1051.9 530.5 1052.5 531 1053.1 531.5 1053.7 532 1054.3 532.5 1055.1 533 1056.2 533.5 1057.3 534 1058.4 534.5 1059.1 535 1059.7 535.5 1060.2 536 1060.6 536.5 1061 537 1061.5 537.5 1062 538 1062.6 538.5 1063.3 539 1064.1 539.5 1064.9 540 1065.7 540.5 1066.5 541 1067.3 541.5 1068 542 1068.7 542.5 1069.2 543 1069.7 543.5 1070 544 1070.4 544.5 1070.7 545 1071 545.5 1071.3 546 1071.5 546.5 1071.8 547 1072 547.5 1072.2 548 1072.5 548.5 1072.8 549 1073 549.5 1073.3 550 1073.5 550.5 1073.8 551 1074 551.5 1074.3 552 1074.5 552.5 1074.7 553 1074.9 553.5 1075 554 1075.2 554.5 1075.3 555 1075.5 555.5 1075.6 556 1075.7 556.5 1075.9 557 1076 557.5 1076.1 558 1076.2 558.5 1076.3 559 1076.4 559.5 1076.6 560 1076.7 560.5 1076.8 561 1076.8 561.5 1076.9 562 1077 562.5 1077.1 563 1077.2 563.5 1077.3 564 1077.4 564.5 1077.4 565 1077.5 565.5 1077.6 566 1077.6 566.5 1077.7 567 1077.8 567.5 1077.9 568 1077.9 568.5 1078 569 1078.1 569.5 1078.1 570 1078.2 570.5 1078.3 571 1078.3 571.5 1078.4 572 1078.4 572.5 1078.4 573 1078.5 573.5 1078.5 574 1078.5 574.5 1078.5 575 1078.5 575.5 1078.5 576 1078.5 576.5 1078.5 577 1078.5 577.5 1078.5 578 1078.5 578.5 1078.5 579 1078.5 579.5 1078.5 580 1078.4 580.5 1078.4 581 1078.4 581.5 1078.4 582 1078.4 582.5 1078.4 583 1078.4 583.5 1078.4 584 1078.4 584.5 1078.3 585 1078.3 585.5 1078.3 586 1078.3 586.5 1078.3 587 1078.3 587.5 1078.3 588 1078.2 588.5 1078.2 589 1078.2 589.5 1078.2 590 1078.2 590.5 1078.2 591 1078.1 591.5 1078.1 592 1078.1 592.5 1078.1 593 1078.1 593.5 1078.1 594 1078 594.5 1078 595 1078 595.5 1078 596 1078 596.5 1078 597 1077.9 597.5 1077.9 598 1077.9 598.5 1077.9 599 1077.8 599.5 1077.8 600 1077.8 600.5 1077.8 601 1077.7 601.5 1077.7 602 1077.7 602.5 1077.6 603 1077.6 603.5 1077.6 604 1077.5 604.5 1077.5 605 1077.5 605.5 1077.5 606 1077.4 606.5 1077.4 607 1077.4 607.5 1077.3 608 1077.3 608.5 1077.3 609 1077.2 609.5 1077.2 610 1077.2 610.5 1077.2 611 1077.1 611.5 1077.1 612 1077.1 612.5 1077.1 613 1077.1 613.5 1077 614 1077 614.5 1077 615 1077 615.5 1077 616 1077 616.5 1077 617 1077 617.5 1077 618 1077 618.5 1077 619 1077 619.5 1077.1 620 1077.1 620.5 1077.1 621 1077.1 621.5 1077.1 622 1077.1 622.5 1077.2 623 1077.2 623.5 1077.2 624 1077.2 624.5 1077.2 625 1077.2 625.5 1077.2 626 1077.2 626.5 1077.1 627 1077 627.5 1077 628 1076.9 628.5 1076.8 629 1076.6 629.5 1076.5 630 1076.4 630.5 1076.2 631 1076.1 631.5 1075.9 632 1075.7 632.5 1075.6 633 1075.4 633.5 1075.3 634 1075.1 634.5 1074.9 635 1074.7 635.5 1074.5 636 1074.2 636.5 1073.9 637 1073.7 637.5 1073.4 638 1073.1 638.5 1072.8 639 1072.6 639.5 1072.3 640 1072 640.5 1071.7 641 1071.4 641.5 1071.2 642 1070.9 642.5 1070.6 643 1070.3 643.5 1070 644 1069.7 644.5 1069.3 645 1069 645.5 1068.7 646 1068.4 646.5 1068 647 1067.7 647.5 1067.3 648 1067 648.5 1066.6 649 1066.3 649.5 1065.9 650 1065.5 650.5 1065.1 651 1064.8 651.5 1064.4 652 1064 652.5 1063.5 653 1063 653.5 1062.5 654 1061.4 654.5 1057.3 655 1052.6 655.5 1047.5 656 1042.5 656.5 1038.4 657 1035.1 657.5 1032 658 1029.2 658.5 1026.2 659 1023.3 659.5 1020.8 660 1017.9 660.5 1014.3 661 1009.1 661.5 1000.9 662 989.4 662.5 972.8 663 941 663.5 906.4 664 877.9 664.5 847.4 665 817.6 665.5 791.6 666 772.5 666.5 763.7 667 764.4 667.5 768 668 773.9 668.5 781.5 669 801 669.5 835.6 670 874.2 670.5 906.4 671 935.6 671.5 963.3 672 985.3 672.5 999.2 673 1010.3 673.5 1019.1 674 1025.1 674.5 1028.5 675 1030.9 675.5 1033 676 1035.5 676.5 1038.4 677 1041.5 677.5 1044.7 678 1048 678.5 1051.7 679 1055.5 679.5 1059 680 1061.7 680.5 1063.8 681 1065.6 681.5 1066.9 682 1067.6 682.5 1067.9 683 1068.2 683.5 1068.5 684 1068.7 684.5 1068.9 685 1069.1 685.5 1069.3 686 1069.4 686.5 1069.5 687 1069.6 687.5 1069.8 688 1069.9 688.5 1070 689 1070.1 689.5 1070.3 690 1070.5 690.5 1070.7 691 1070.9 691.5 1071.2 692 1071.4 692.5 1071.7 693 1072 693.5 1072.3 694 1072.6 694.5 1072.9 695 1073.2 695.5 1073.5 696 1073.8 696.5 1074 697 1074.3 697.5 1074.6 698 1074.8 698.5 1075.1 699 1075.3 699.5 1075.5 700 1075.7 700.5 1075.8 701 1075.9 701.5 1076.1 702 1076.2 702.5 1076.3 703 1076.4 703.5 1076.5 704 1076.6 704.5 1076.7 705 1076.8 705.5 1076.9 706 1077 706.5 1077.1 707 1077.2 707.5 1077.3 708 1077.4 708.5 1077.4 709 1077.5 709.5 1077.6 710 1077.7 710.5 1077.7 711 1077.8 711.5 1077.9 712 1077.9 712.5 1078 713 1078.1 713.5 1078.1 714 1078.2 714.5 1078.3 715 1078.3 715.5 1078.4 716 1078.4 716.5 1078.5 717 1078.5 717.5 1078.6 718 1078.6 718.5 1078.7 719 1078.7 719.5 1078.8 720 1078.8 720.5 1078.9 721 1078.9 721.5 1079 722 1079 722.5 1079.1 723 1079.1 723.5 1079.1 724 1079.2 724.5 1079.2 725 1079.3 725.5 1079.3 726 1079.4 726.5 1079.4 727 1079.4 727.5 1079.5 728 1079.5 728.5 1079.6 729 1079.6 729.5 1079.7 730 1079.7 730.5 1079.7 731 1079.8 731.5 1079.8 732 1079.8 732.5 1079.9 733 1079.9 733.5 1079.9 734 1079.9 734.5 1080 735 1080 735.5 1080 736 1080 736.5 1080.1 737 1080.1 737.5 1080.1 738 1080.1 738.5 1080.1 739 1080.1 739.5 1080.1 740 1080.1 740.5 1080.1 741 1080.1 741.5 1080.1 742 1080.1 742.5 1080.1 743 1080.1" fill="none" stroke="#000" stroke-width="1.15" stroke-linejoin="round"/>
<g fill="#000"><circle cx="446.8" cy="1078" r="3.95"/><circle cx="448.7" cy="1078.5" r="3.95"/><circle cx="450.6" cy="1079.3" r="3.95"/><circle cx="452.6" cy="1079.6" r="3.95"/><circle cx="454.6" cy="1079" r="3.95"/><circle cx="456.5" cy="1077.4" r="3.95"/><circle cx="458.4" cy="1078" r="3.95"/><circle cx="460.4" cy="1078.6" r="3.95"/><circle cx="462.4" cy="1077.9" r="3.95"/><circle cx="464.3" cy="1076.9" r="3.95"/><circle cx="466.2" cy="1075.8" r="3.95"/><circle cx="468.2" cy="1076.6" r="3.95"/><circle cx="470.1" cy="1075.3" r="3.95"/><circle cx="472.1" cy="1074.5" r="3.95"/><circle cx="474.1" cy="1074.5" r="3.95"/><circle cx="476" cy="1076" r="3.95"/><circle cx="477.9" cy="1074.7" r="3.95"/><circle cx="479.9" cy="1075.1" r="3.95"/><circle cx="481.9" cy="1073.4" r="3.95"/><circle cx="483.8" cy="1074" r="3.95"/><circle cx="485.8" cy="1072.2" r="3.95"/><circle cx="487.7" cy="1071.7" r="3.95"/><circle cx="489.6" cy="1072.9" r="3.95"/><circle cx="491.6" cy="1069.9" r="3.95"/><circle cx="493.6" cy="1066.3" r="3.95"/><circle cx="495.5" cy="1063.8" r="3.95"/><circle cx="497.4" cy="1061.8" r="3.95"/><circle cx="499.4" cy="1060.4" r="3.95"/><circle cx="501.4" cy="1056.2" r="3.95"/><circle cx="503.3" cy="1049" r="3.95"/><circle cx="505.2" cy="1043.2" r="3.95"/><circle cx="507.2" cy="1038.7" r="3.95"/><circle cx="524.8" cy="1037.3" r="3.95"/><circle cx="526.7" cy="1045.3" r="3.95"/><circle cx="528.6" cy="1051.2" r="3.95"/><circle cx="530.6" cy="1051.9" r="3.95"/><circle cx="532.5" cy="1055.2" r="3.95"/><circle cx="534.5" cy="1059.5" r="3.95"/><circle cx="536.5" cy="1061.6" r="3.95"/><circle cx="538.4" cy="1062.8" r="3.95"/><circle cx="540.4" cy="1066.5" r="3.95"/><circle cx="542.3" cy="1068.8" r="3.95"/><circle cx="544.2" cy="1070.6" r="3.95"/><circle cx="546.2" cy="1071.5" r="3.95"/><circle cx="548.1" cy="1071.7" r="3.95"/><circle cx="550.1" cy="1073.6" r="3.95"/><circle cx="552" cy="1075.2" r="3.95"/><circle cx="554" cy="1074.4" r="3.95"/><circle cx="556" cy="1075.5" r="3.95"/><circle cx="557.9" cy="1076.7" r="3.95"/><circle cx="559.9" cy="1075.8" r="3.95"/><circle cx="561.8" cy="1077.1" r="3.95"/><circle cx="563.8" cy="1076.5" r="3.95"/><circle cx="565.7" cy="1078.5" r="3.95"/><circle cx="567.6" cy="1079.7" r="3.95"/><circle cx="569.6" cy="1079.8" r="3.95"/><circle cx="571.5" cy="1078.2" r="3.95"/><circle cx="573.5" cy="1079.1" r="3.95"/><circle cx="575.5" cy="1078.6" r="3.95"/><circle cx="577.4" cy="1078.6" r="3.95"/><circle cx="579.4" cy="1079.7" r="3.95"/><circle cx="581.3" cy="1077.4" r="3.95"/><circle cx="583.2" cy="1079.2" r="3.95"/><circle cx="585.2" cy="1078.3" r="3.95"/><circle cx="587.1" cy="1079.4" r="3.95"/><circle cx="589.1" cy="1078.4" r="3.95"/><circle cx="591" cy="1077.6" r="3.95"/><circle cx="593" cy="1078.3" r="3.95"/><circle cx="595" cy="1078.6" r="3.95"/><circle cx="596.9" cy="1078" r="3.95"/><circle cx="598.9" cy="1078.2" r="3.95"/><circle cx="600.8" cy="1077.3" r="3.95"/><circle cx="602.8" cy="1075.9" r="3.95"/><circle cx="604.7" cy="1078.2" r="3.95"/><circle cx="606.6" cy="1077.9" r="3.95"/><circle cx="608.6" cy="1077.4" r="3.95"/><circle cx="610.5" cy="1077.2" r="3.95"/><circle cx="612.5" cy="1077.9" r="3.95"/><circle cx="614.5" cy="1076.7" r="3.95"/><circle cx="616.4" cy="1076.4" r="3.95"/><circle cx="618.4" cy="1076.9" r="3.95"/><circle cx="620.3" cy="1078" r="3.95"/><circle cx="622.2" cy="1076" r="3.95"/><circle cx="624.2" cy="1078.1" r="3.95"/><circle cx="626.1" cy="1076.6" r="3.95"/><circle cx="628.1" cy="1076" r="3.95"/><circle cx="630" cy="1077.4" r="3.95"/><circle cx="632" cy="1075.7" r="3.95"/><circle cx="634" cy="1074.1" r="3.95"/><circle cx="635.9" cy="1074" r="3.95"/><circle cx="637.9" cy="1074" r="3.95"/><circle cx="639.8" cy="1073.1" r="3.95"/><circle cx="641.8" cy="1070.7" r="3.95"/><circle cx="643.7" cy="1070.2" r="3.95"/><circle cx="645.6" cy="1069.2" r="3.95"/><circle cx="647.6" cy="1066.8" r="3.95"/><circle cx="649.5" cy="1066.1" r="3.95"/><circle cx="651.5" cy="1064.4" r="3.95"/><circle cx="680.8" cy="1064.5" r="3.95"/><circle cx="682.7" cy="1069.6" r="3.95"/><circle cx="684.6" cy="1070.4" r="3.95"/><circle cx="686.6" cy="1068" r="3.95"/><circle cx="688.5" cy="1069.2" r="3.95"/><circle cx="690.5" cy="1071.2" r="3.95"/><circle cx="692.5" cy="1072.3" r="3.95"/><circle cx="694.4" cy="1073.4" r="3.95"/><circle cx="696.4" cy="1073.9" r="3.95"/><circle cx="698.3" cy="1075.3" r="3.95"/><circle cx="700.2" cy="1076.3" r="3.95"/><circle cx="702.2" cy="1076.2" r="3.95"/><circle cx="704.1" cy="1077.5" r="3.95"/><circle cx="706.1" cy="1075.2" r="3.95"/><circle cx="708" cy="1077.9" r="3.95"/><circle cx="710" cy="1076.8" r="3.95"/><circle cx="712" cy="1078.7" r="3.95"/><circle cx="713.9" cy="1078" r="3.95"/><circle cx="715.9" cy="1077.7" r="3.95"/><circle cx="717.8" cy="1078.9" r="3.95"/><circle cx="719.8" cy="1078.1" r="3.95"/><circle cx="721.7" cy="1078.3" r="3.95"/><circle cx="723.6" cy="1077.9" r="3.95"/><circle cx="725.6" cy="1079.3" r="3.95"/><circle cx="727.5" cy="1079.9" r="3.95"/><circle cx="729.5" cy="1080.5" r="3.95"/><circle cx="731.5" cy="1079.7" r="3.95"/><circle cx="733.4" cy="1080.8" r="3.95"/><circle cx="735.4" cy="1080" r="3.95"/><circle cx="737.3" cy="1080" r="3.95"/><circle cx="739.2" cy="1080.6" r="3.95"/><circle cx="741.2" cy="1080.9" r="3.95"/><circle cx="509" cy="1022.1" r="3.95"/><circle cx="510.7" cy="1013.1" r="3.95"/><circle cx="512.3" cy="992" r="3.95"/><circle cx="515" cy="982.8" r="3.95"/><circle cx="516.8" cy="1001" r="3.95"/><circle cx="518.1" cy="1006.9" r="3.95"/><circle cx="520.7" cy="1010" r="3.95"/><circle cx="522.5" cy="1023.9" r="3.95"/><circle cx="653.9" cy="1061.7" r="3.95"/><circle cx="654.8" cy="1054.4" r="3.95"/><circle cx="656.3" cy="1039.9" r="3.95"/><circle cx="658.6" cy="1025.6" r="3.95"/><circle cx="660.7" cy="1012.5" r="3.95"/><circle cx="662.3" cy="980.9" r="3.95"/><circle cx="663.6" cy="900.7" r="3.95"/><circle cx="666.6" cy="745.8" r="3.95"/><circle cx="668.5" cy="781.5" r="3.95"/><circle cx="670.4" cy="900.7" r="3.95"/><circle cx="672.2" cy="991.5" r="3.95"/><circle cx="674.1" cy="1025.9" r="3.95"/><circle cx="675.9" cy="1034.9" r="3.95"/><circle cx="677.8" cy="1046.6" r="3.95"/><circle cx="680" cy="1061.7" r="3.95"/></g>
</g>
<clipPath id="c6"><rect x="750" y="0" width="291.5" height="1335"/></clipPath>
<g clip-path="url(#c6)">
<path d="M747 1079 747.5 1079 748 1079 748.5 1079 749 1079 749.5 1079 750 1079 750.5 1079 751 1079 751.5 1079 752 1079 752.5 1079 753 1079 753.5 1078.9 754 1078.9 754.5 1078.9 755 1078.9 755.5 1078.8 756 1078.8 756.5 1078.8 757 1078.7 757.5 1078.7 758 1078.7 758.5 1078.6 759 1078.6 759.5 1078.5 760 1078.5 760.5 1078.4 761 1078.4 761.5 1078.3 762 1078.3 762.5 1078.2 763 1078.2 763.5 1078.1 764 1078.1 764.5 1078 765 1077.9 765.5 1077.9 766 1077.8 766.5 1077.8 767 1077.7 767.5 1077.7 768 1077.6 768.5 1077.6 769 1077.5 769.5 1077.5 770 1077.4 770.5 1077.4 771 1077.3 771.5 1077.3 772 1077.2 772.5 1077.1 773 1077.1 773.5 1077 774 1077 774.5 1076.9 775 1076.9 775.5 1076.8 776 1076.8 776.5 1076.7 777 1076.6 777.5 1076.6 778 1076.5 778.5 1076.5 779 1076.4 779.5 1076.3 780 1076.3 780.5 1076.2 781 1076.1 781.5 1076 782 1076 782.5 1075.9 783 1075.8 783.5 1075.7 784 1075.6 784.5 1075.5 785 1075.4 785.5 1075.3 786 1075.2 786.5 1075.1 787 1075 787.5 1074.9 788 1074.8 788.5 1074.7 789 1074.6 789.5 1074.4 790 1074.3 790.5 1074.1 791 1073.9 791.5 1073.7 792 1073.4 792.5 1073.2 793 1072.9 793.5 1072.6 794 1072.1 794.5 1071.5 795 1070.7 795.5 1069.8 796 1068.9 796.5 1067.8 797 1066.8 797.5 1065.7 798 1064.5 798.5 1063.4 799 1062.3 799.5 1060.9 800 1059.5 800.5 1058 801 1056.6 801.5 1055.3 802 1054.1 802.5 1053 803 1052 803.5 1051 804 1050.1 804.5 1049.2 805 1048.3 805.5 1047.5 806 1046.7 806.5 1046 807 1045.5 807.5 1045.1 808 1044.7 808.5 1044.4 809 1044.2 809.5 1044.2 810 1044.3 810.5 1044.4 811 1044.5 811.5 1044.7 812 1045.1 812.5 1045.5 813 1046.1 813.5 1046.6 814 1047.4 814.5 1048.4 815 1049.5 815.5 1050.6 816 1051.7 816.5 1052.7 817 1053.6 817.5 1054.5 818 1055.3 818.5 1056.1 819 1056.9 819.5 1057.8 820 1058.7 820.5 1059.6 821 1060.7 821.5 1061.9 822 1063.3 822.5 1064.7 823 1065.9 823.5 1066.9 824 1067.5 824.5 1067.9 825 1068.2 825.5 1068.5 826 1068.8 826.5 1069 827 1069.2 827.5 1069.4 828 1069.6 828.5 1069.8 829 1070 829.5 1070.2 830 1070.5 830.5 1070.8 831 1071.1 831.5 1071.5 832 1071.9 832.5 1072.3 833 1072.7 833.5 1073.1 834 1073.5 834.5 1073.9 835 1074.2 835.5 1074.5 836 1074.7 836.5 1074.8 837 1074.9 837.5 1075 838 1075 838.5 1075.1 839 1075.2 839.5 1075.2 840 1075.3 840.5 1075.4 841 1075.4 841.5 1075.4 842 1075.5 842.5 1075.5 843 1075.6 843.5 1075.6 844 1075.6 844.5 1075.7 845 1075.7 845.5 1075.7 846 1075.8 846.5 1075.8 847 1075.8 847.5 1075.9 848 1075.9 848.5 1075.9 849 1075.9 849.5 1076 850 1076 850.5 1076 851 1076.1 851.5 1076.1 852 1076.2 852.5 1076.2 853 1076.3 853.5 1076.3 854 1076.4 854.5 1076.4 855 1076.5 855.5 1076.6 856 1076.6 856.5 1076.7 857 1076.8 857.5 1076.8 858 1076.9 858.5 1077 859 1077.1 859.5 1077.2 860 1077.3 860.5 1077.3 861 1077.4 861.5 1077.5 862 1077.6 862.5 1077.7 863 1077.8 863.5 1077.9 864 1077.9 864.5 1078 865 1078.1 865.5 1078.2 866 1078.3 866.5 1078.3 867 1078.4 867.5 1078.5 868 1078.5 868.5 1078.6 869 1078.7 869.5 1078.7 870 1078.8 870.5 1078.8 871 1078.9 871.5 1078.9 872 1078.9 872.5 1079 873 1079 873.5 1079 874 1079 874.5 1079 875 1079 875.5 1079 876 1079 876.5 1079 877 1079 877.5 1079 878 1079 878.5 1079 879 1079 879.5 1079 880 1079 880.5 1079 881 1079 881.5 1079 882 1079 882.5 1079 883 1079 883.5 1079 884 1079 884.5 1079 885 1079 885.5 1079 886 1079 886.5 1079 887 1079 887.5 1079 888 1079 888.5 1079 889 1079 889.5 1079 890 1079 890.5 1079 891 1079 891.5 1079 892 1079 892.5 1079 893 1079 893.5 1079 894 1079 894.5 1079 895 1079 895.5 1079 896 1079 896.5 1079 897 1079 897.5 1079 898 1079 898.5 1079 899 1079 899.5 1079.1 900 1079.1 900.5 1079.1 901 1079.1 901.5 1079.1 902 1079.1 902.5 1079.2 903 1079.2 903.5 1079.2 904 1079.2 904.5 1079.2 905 1079.3 905.5 1079.3 906 1079.3 906.5 1079.3 907 1079.3 907.5 1079.4 908 1079.4 908.5 1079.4 909 1079.4 909.5 1079.4 910 1079.5 910.5 1079.5 911 1079.5 911.5 1079.5 912 1079.5 912.5 1079.5 913 1079.6 913.5 1079.6 914 1079.6 914.5 1079.6 915 1079.6 915.5 1079.6 916 1079.6 916.5 1079.6 917 1079.6 917.5 1079.6 918 1079.6 918.5 1079.5 919 1079.5 919.5 1079.5 920 1079.4 920.5 1079.4 921 1079.3 921.5 1079.3 922 1079.2 922.5 1079.2 923 1079.1 923.5 1079 924 1078.9 924.5 1078.9 925 1078.8 925.5 1078.7 926 1078.6 926.5 1078.5 927 1078.4 927.5 1078.4 928 1078.3 928.5 1078.2 929 1078.1 929.5 1078 930 1077.9 930.5 1077.8 931 1077.7 931.5 1077.7 932 1077.6 932.5 1077.5 933 1077.4 933.5 1077.4 934 1077.3 934.5 1077.2 935 1077.2 935.5 1077.1 936 1077 936.5 1077 937 1076.9 937.5 1076.9 938 1076.9 938.5 1076.8 939 1076.8 939.5 1076.8 940 1076.8 940.5 1076.7 941 1076.7 941.5 1076.7 942 1076.7 942.5 1076.6 943 1076.6 943.5 1076.6 944 1076.6 944.5 1076.6 945 1076.6 945.5 1076.6 946 1076.5 946.5 1076.5 947 1076.5 947.5 1076.5 948 1076.5 948.5 1076.5 949 1076.4 949.5 1076.4 950 1076.4 950.5 1076.4 951 1076.4 951.5 1076.4 952 1076.3 952.5 1076.3 953 1076.3 953.5 1076.3 954 1076.2 954.5 1076.2 955 1076.2 955.5 1076.2 956 1076.1 956.5 1076.1 957 1076.1 957.5 1076 958 1076 958.5 1075.9 959 1075.9 959.5 1075.8 960 1075.6 960.5 1075.5 961 1075.3 961.5 1075 962 1074.8 962.5 1074.5 963 1074.2 963.5 1073.8 964 1073.5 964.5 1073.2 965 1072.8 965.5 1072.5 966 1072.1 966.5 1071.7 967 1071.4 967.5 1071.1 968 1070.7 968.5 1070.4 969 1070.1 969.5 1069.8 970 1069.5 970.5 1069.2 971 1068.9 971.5 1068.6 972 1068.3 972.5 1068 973 1067.6 973.5 1067.3 974 1066.8 974.5 1066.4 975 1065.9 975.5 1065.4 976 1064.8 976.5 1064.1 977 1063.3 977.5 1062.3 978 1061.3 978.5 1060.2 979 1059 979.5 1057.7 980 1056.3 980.5 1054.8 981 1052.9 981.5 1050.6 982 1047.2 982.5 1042.8 983 1038.9 983.5 1035.8 984 1032.6 984.5 1028.6 985 1022.8 985.5 1015.5 986 1006 986.5 993.7 987 984.1 987.5 975.2 988 957.6 988.5 910 989 896.1 989.5 886.8 990 882.7 990.5 884.3 991 889.6 991.5 899.6 992 917.4 992.5 946.6 993 982.2 993.5 994 994 998.7 994.5 1005.8 995 1017.9 995.5 1028.3 996 1032.6 996.5 1035.1 997 1038.1 997.5 1044.9 998 1049.7 998.5 1052.7 999 1055.1 999.5 1057 1000 1058.5 1000.5 1059.8 1001 1060.9 1001.5 1061.9 1002 1062.7 1002.5 1063.5 1003 1064.3 1003.5 1065 1004 1065.8 1004.5 1066.5 1005 1067.1 1005.5 1067.8 1006 1068.4 1006.5 1069 1007 1069.5 1007.5 1070 1008 1070.5 1008.5 1071 1009 1071.4 1009.5 1071.7 1010 1072.1 1010.5 1072.5 1011 1072.8 1011.5 1073.2 1012 1073.5 1012.5 1073.8 1013 1074.1 1013.5 1074.5 1014 1074.8 1014.5 1075.1 1015 1075.3 1015.5 1075.6 1016 1075.9 1016.5 1076.1 1017 1076.4 1017.5 1076.6 1018 1076.8 1018.5 1077 1019 1077.2 1019.5 1077.4 1020 1077.5 1020.5 1077.7 1021 1077.8 1021.5 1077.9 1022 1078 1022.5 1078.1 1023 1078.2 1023.5 1078.3 1024 1078.4 1024.5 1078.5 1025 1078.6 1025.5 1078.7 1026 1078.7 1026.5 1078.8 1027 1078.9 1027.5 1079 1028 1079.1 1028.5 1079.1 1029 1079.2 1029.5 1079.3 1030 1079.3 1030.5 1079.4 1031 1079.5 1031.5 1079.5 1032 1079.6 1032.5 1079.6 1033 1079.7 1033.5 1079.7 1034 1079.8 1034.5 1079.8 1035 1079.9 1035.5 1079.9 1036 1079.9 1036.5 1080 1037 1080 1037.5 1080 1038 1080.1 1038.5 1080.1 1039 1080.1 1039.5 1080.1 1040 1080.1 1040.5 1080.1 1041 1080.1 1041.5 1080.1 1042 1080.1 1042.5 1080.1 1043 1080.1 1043.5 1080.1 1044 1080.1 1044.5 1080.1 1045 1080.1" fill="none" stroke="#000" stroke-width="1.15" stroke-linejoin="round"/>
<g fill="#000"><circle cx="747.4" cy="1078.7" r="3.95"/><circle cx="748.4" cy="1078.8" r="3.95"/><circle cx="749.5" cy="1078.9" r="3.95"/><circle cx="750.5" cy="1079.1" r="3.95"/><circle cx="751.6" cy="1078.3" r="3.95"/><circle cx="752.7" cy="1079.8" r="3.95"/><circle cx="753.7" cy="1078.6" r="3.95"/><circle cx="754.8" cy="1079.2" r="3.95"/><circle cx="755.8" cy="1078.2" r="3.95"/><circle cx="756.9" cy="1079" r="3.95"/><circle cx="758" cy="1079" r="3.95"/><circle cx="759" cy="1078.2" r="3.95"/><circle cx="760.1" cy="1080.1" r="3.95"/><circle cx="761.1" cy="1078.7" r="3.95"/><circle cx="762.2" cy="1079.7" r="3.95"/><circle cx="763.3" cy="1078.9" r="3.95"/><circle cx="764.3" cy="1077.5" r="3.95"/><circle cx="765.4" cy="1077.6" r="3.95"/><circle cx="766.4" cy="1078.1" r="3.95"/><circle cx="767.5" cy="1077.7" r="3.95"/><circle cx="768.6" cy="1077.6" r="3.95"/><circle cx="769.6" cy="1077.2" r="3.95"/><circle cx="770.7" cy="1075.9" r="3.95"/><circle cx="771.7" cy="1077" r="3.95"/><circle cx="772.8" cy="1075.3" r="3.95"/><circle cx="773.9" cy="1077.3" r="3.95"/><circle cx="774.9" cy="1076.3" r="3.95"/><circle cx="776" cy="1076.2" r="3.95"/><circle cx="777" cy="1076.5" r="3.95"/><circle cx="778.1" cy="1076.7" r="3.95"/><circle cx="779.2" cy="1075.2" r="3.95"/><circle cx="780.2" cy="1074.8" r="3.95"/><circle cx="781.3" cy="1075.2" r="3.95"/><circle cx="782.3" cy="1074.3" r="3.95"/><circle cx="783.4" cy="1074.9" r="3.95"/><circle cx="784.5" cy="1076.8" r="3.95"/><circle cx="785.5" cy="1074.5" r="3.95"/><circle cx="786.6" cy="1075.6" r="3.95"/><circle cx="787.6" cy="1073.8" r="3.95"/><circle cx="788.7" cy="1074.9" r="3.95"/><circle cx="789.8" cy="1074.1" r="3.95"/><circle cx="790.8" cy="1073.9" r="3.95"/><circle cx="791.9" cy="1074" r="3.95"/><circle cx="792.9" cy="1074.3" r="3.95"/><circle cx="794" cy="1072.2" r="3.95"/><circle cx="795.1" cy="1070.7" r="3.95"/><circle cx="796.1" cy="1067.9" r="3.95"/><circle cx="797.2" cy="1066.8" r="3.95"/><circle cx="798.2" cy="1063.8" r="3.95"/><circle cx="799.3" cy="1062.1" r="3.95"/><circle cx="800.4" cy="1058.4" r="3.95"/><circle cx="801.4" cy="1056.9" r="3.95"/><circle cx="802.5" cy="1051.5" r="3.95"/><circle cx="803.5" cy="1050.7" r="3.95"/><circle cx="804.6" cy="1049.7" r="3.95"/><circle cx="805.7" cy="1047" r="3.95"/><circle cx="806.7" cy="1045.1" r="3.95"/><circle cx="807.8" cy="1044.6" r="3.95"/><circle cx="808.8" cy="1043.1" r="3.95"/><circle cx="809.9" cy="1044.4" r="3.95"/><circle cx="811" cy="1046.4" r="3.95"/><circle cx="812" cy="1046" r="3.95"/><circle cx="813.1" cy="1045.3" r="3.95"/><circle cx="814.1" cy="1047" r="3.95"/><circle cx="815.2" cy="1049.6" r="3.95"/><circle cx="816.3" cy="1053" r="3.95"/><circle cx="817.3" cy="1053.5" r="3.95"/><circle cx="818.4" cy="1055.4" r="3.95"/><circle cx="819.4" cy="1058.4" r="3.95"/><circle cx="820.5" cy="1060.3" r="3.95"/><circle cx="821.6" cy="1061.8" r="3.95"/><circle cx="822.6" cy="1064.1" r="3.95"/><circle cx="823.7" cy="1065.9" r="3.95"/><circle cx="824.7" cy="1067.5" r="3.95"/><circle cx="825.8" cy="1066.9" r="3.95"/><circle cx="826.9" cy="1069.8" r="3.95"/><circle cx="827.9" cy="1069.1" r="3.95"/><circle cx="829" cy="1070.4" r="3.95"/><circle cx="830" cy="1072" r="3.95"/><circle cx="831.1" cy="1072.1" r="3.95"/><circle cx="832.2" cy="1071.1" r="3.95"/><circle cx="833.2" cy="1073.6" r="3.95"/><circle cx="834.3" cy="1074.7" r="3.95"/><circle cx="835.3" cy="1073.8" r="3.95"/><circle cx="836.4" cy="1074" r="3.95"/><circle cx="837.5" cy="1074.9" r="3.95"/><circle cx="838.5" cy="1073.8" r="3.95"/><circle cx="839.6" cy="1076.4" r="3.95"/><circle cx="840.6" cy="1073.4" r="3.95"/><circle cx="841.7" cy="1074.6" r="3.95"/><circle cx="842.8" cy="1075.3" r="3.95"/><circle cx="843.8" cy="1075.4" r="3.95"/><circle cx="844.9" cy="1075.8" r="3.95"/><circle cx="845.9" cy="1076" r="3.95"/><circle cx="847" cy="1075.7" r="3.95"/><circle cx="848.1" cy="1076.8" r="3.95"/><circle cx="849.1" cy="1074.2" r="3.95"/><circle cx="850.2" cy="1076" r="3.95"/><circle cx="851.2" cy="1075.5" r="3.95"/><circle cx="852.3" cy="1076.3" r="3.95"/><circle cx="853.4" cy="1076.5" r="3.95"/><circle cx="854.4" cy="1075.7" r="3.95"/><circle cx="855.5" cy="1076" r="3.95"/><circle cx="856.5" cy="1077.3" r="3.95"/><circle cx="857.6" cy="1077.1" r="3.95"/><circle cx="858.7" cy="1076.5" r="3.95"/><circle cx="859.7" cy="1078.8" r="3.95"/><circle cx="860.8" cy="1079.2" r="3.95"/><circle cx="861.8" cy="1076.4" r="3.95"/><circle cx="862.9" cy="1078" r="3.95"/><circle cx="864" cy="1079.9" r="3.95"/><circle cx="865" cy="1078.7" r="3.95"/><circle cx="866.1" cy="1078.4" r="3.95"/><circle cx="867.1" cy="1078.3" r="3.95"/><circle cx="868.2" cy="1078.1" r="3.95"/><circle cx="869.3" cy="1078.5" r="3.95"/><circle cx="870.3" cy="1078.4" r="3.95"/><circle cx="871.4" cy="1079.5" r="3.95"/><circle cx="872.4" cy="1078.6" r="3.95"/><circle cx="873.5" cy="1078.6" r="3.95"/><circle cx="874.6" cy="1078" r="3.95"/><circle cx="875.6" cy="1079" r="3.95"/><circle cx="876.7" cy="1078.3" r="3.95"/><circle cx="877.7" cy="1078.9" r="3.95"/><circle cx="878.8" cy="1079.8" r="3.95"/><circle cx="879.9" cy="1079.3" r="3.95"/><circle cx="880.9" cy="1079.4" r="3.95"/><circle cx="882" cy="1079.3" r="3.95"/><circle cx="883" cy="1079" r="3.95"/><circle cx="884.1" cy="1078.9" r="3.95"/><circle cx="885.2" cy="1078.8" r="3.95"/><circle cx="886.2" cy="1079.6" r="3.95"/><circle cx="887.3" cy="1078.1" r="3.95"/><circle cx="888.3" cy="1080.1" r="3.95"/><circle cx="889.4" cy="1079" r="3.95"/><circle cx="890.5" cy="1078.4" r="3.95"/><circle cx="891.5" cy="1078.6" r="3.95"/><circle cx="892.6" cy="1078.5" r="3.95"/><circle cx="893.6" cy="1079.1" r="3.95"/><circle cx="894.7" cy="1078.4" r="3.95"/><circle cx="895.8" cy="1079.9" r="3.95"/><circle cx="896.8" cy="1078.4" r="3.95"/><circle cx="897.9" cy="1077.2" r="3.95"/><circle cx="898.9" cy="1078.5" r="3.95"/><circle cx="900" cy="1077.5" r="3.95"/><circle cx="901.1" cy="1079.1" r="3.95"/><circle cx="902.1" cy="1080" r="3.95"/><circle cx="903.2" cy="1079.7" r="3.95"/><circle cx="904.2" cy="1078.2" r="3.95"/><circle cx="905.3" cy="1078.7" r="3.95"/><circle cx="906.4" cy="1080.7" r="3.95"/><circle cx="907.4" cy="1079.6" r="3.95"/><circle cx="908.5" cy="1079.4" r="3.95"/><circle cx="909.5" cy="1080.3" r="3.95"/><circle cx="910.6" cy="1081.4" r="3.95"/><circle cx="911.7" cy="1080.6" r="3.95"/><circle cx="912.7" cy="1079.7" r="3.95"/><circle cx="913.8" cy="1079.9" r="3.95"/><circle cx="914.8" cy="1080.1" r="3.95"/><circle cx="915.9" cy="1079.1" r="3.95"/><circle cx="917" cy="1078.8" r="3.95"/><circle cx="918" cy="1079.6" r="3.95"/><circle cx="919.1" cy="1078.8" r="3.95"/><circle cx="920.1" cy="1079.4" r="3.95"/><circle cx="921.2" cy="1079.4" r="3.95"/><circle cx="922.3" cy="1081.1" r="3.95"/><circle cx="923.3" cy="1078.4" r="3.95"/><circle cx="924.4" cy="1078.8" r="3.95"/><circle cx="925.4" cy="1078.6" r="3.95"/><circle cx="926.5" cy="1078.9" r="3.95"/><circle cx="927.6" cy="1079.2" r="3.95"/><circle cx="928.6" cy="1077.8" r="3.95"/><circle cx="929.7" cy="1077.3" r="3.95"/><circle cx="930.7" cy="1076.5" r="3.95"/><circle cx="931.8" cy="1076.9" r="3.95"/><circle cx="932.9" cy="1077.9" r="3.95"/><circle cx="933.9" cy="1077.3" r="3.95"/><circle cx="935" cy="1076.3" r="3.95"/><circle cx="936" cy="1076.7" r="3.95"/><circle cx="937.1" cy="1077" r="3.95"/><circle cx="938.2" cy="1077.3" r="3.95"/><circle cx="939.2" cy="1076.3" r="3.95"/><circle cx="940.3" cy="1076.5" r="3.95"/><circle cx="941.3" cy="1075.2" r="3.95"/><circle cx="942.4" cy="1075.7" r="3.95"/><circle cx="943.5" cy="1077.9" r="3.95"/><circle cx="944.5" cy="1074.8" r="3.95"/><circle cx="945.6" cy="1076.3" r="3.95"/><circle cx="946.6" cy="1076.7" r="3.95"/><circle cx="947.7" cy="1076.2" r="3.95"/><circle cx="948.8" cy="1075.8" r="3.95"/><circle cx="949.8" cy="1076.4" r="3.95"/><circle cx="950.9" cy="1076.4" r="3.95"/><circle cx="951.9" cy="1076.3" r="3.95"/><circle cx="953" cy="1074.8" r="3.95"/><circle cx="954.1" cy="1076.1" r="3.95"/><circle cx="955.1" cy="1075.5" r="3.95"/><circle cx="956.2" cy="1075.7" r="3.95"/><circle cx="957.2" cy="1076.2" r="3.95"/><circle cx="958.3" cy="1076.5" r="3.95"/><circle cx="959.4" cy="1076.5" r="3.95"/><circle cx="960.4" cy="1075.1" r="3.95"/><circle cx="961.5" cy="1075.8" r="3.95"/><circle cx="962.5" cy="1075.4" r="3.95"/><circle cx="963.6" cy="1074.7" r="3.95"/><circle cx="964.7" cy="1074.2" r="3.95"/><circle cx="965.7" cy="1072.2" r="3.95"/><circle cx="966.8" cy="1071.4" r="3.95"/><circle cx="967.8" cy="1071.5" r="3.95"/><circle cx="968.9" cy="1069.1" r="3.95"/><circle cx="970" cy="1069.7" r="3.95"/><circle cx="971" cy="1068.5" r="3.95"/><circle cx="972.1" cy="1068" r="3.95"/><circle cx="973.1" cy="1066.1" r="3.95"/><circle cx="974.2" cy="1066" r="3.95"/><circle cx="975.3" cy="1065.6" r="3.95"/><circle cx="976.3" cy="1065.1" r="3.95"/><circle cx="977.4" cy="1063.4" r="3.95"/><circle cx="978.4" cy="1060.3" r="3.95"/><circle cx="979.5" cy="1057.6" r="3.95"/><circle cx="980.6" cy="1053.9" r="3.95"/><circle cx="981.6" cy="1050" r="3.95"/><circle cx="982.7" cy="1041.3" r="3.95"/><circle cx="983.7" cy="1034.5" r="3.95"/><circle cx="984.8" cy="1025.7" r="3.95"/><circle cx="995.4" cy="1027" r="3.95"/><circle cx="996.5" cy="1034.6" r="3.95"/><circle cx="997.5" cy="1045.1" r="3.95"/><circle cx="998.6" cy="1052.9" r="3.95"/><circle cx="999.6" cy="1057.6" r="3.95"/><circle cx="1000.7" cy="1060.7" r="3.95"/><circle cx="1001.8" cy="1063.3" r="3.95"/><circle cx="1002.8" cy="1065" r="3.95"/><circle cx="1003.9" cy="1066.5" r="3.95"/><circle cx="1004.9" cy="1068.1" r="3.95"/><circle cx="1006" cy="1068.9" r="3.95"/><circle cx="1007.1" cy="1068.4" r="3.95"/><circle cx="1008.1" cy="1070.5" r="3.95"/><circle cx="1009.2" cy="1071.8" r="3.95"/><circle cx="1010.2" cy="1072" r="3.95"/><circle cx="1011.3" cy="1073.8" r="3.95"/><circle cx="1012.4" cy="1073.4" r="3.95"/><circle cx="1013.4" cy="1073.7" r="3.95"/><circle cx="1014.5" cy="1076.2" r="3.95"/><circle cx="1015.5" cy="1076.2" r="3.95"/><circle cx="1016.6" cy="1076.3" r="3.95"/><circle cx="1017.7" cy="1077.4" r="3.95"/><circle cx="1018.7" cy="1077.9" r="3.95"/><circle cx="1019.8" cy="1077.7" r="3.95"/><circle cx="1020.8" cy="1075.8" r="3.95"/><circle cx="1021.9" cy="1077.5" r="3.95"/><circle cx="1023" cy="1077.8" r="3.95"/><circle cx="1024" cy="1077.6" r="3.95"/><circle cx="1025.1" cy="1078.7" r="3.95"/><circle cx="1026.1" cy="1079.7" r="3.95"/><circle cx="1027.2" cy="1078.5" r="3.95"/><circle cx="1028.3" cy="1078.2" r="3.95"/><circle cx="1029.3" cy="1080.9" r="3.95"/><circle cx="1030.4" cy="1079" r="3.95"/><circle cx="1031.4" cy="1078.5" r="3.95"/><circle cx="1032.5" cy="1079.8" r="3.95"/><circle cx="1033.6" cy="1080.1" r="3.95"/><circle cx="1034.6" cy="1079.3" r="3.95"/><circle cx="1035.7" cy="1080.6" r="3.95"/><circle cx="1036.7" cy="1079.6" r="3.95"/><circle cx="1037.8" cy="1079.3" r="3.95"/><circle cx="1038.9" cy="1080.2" r="3.95"/><circle cx="1039.9" cy="1080.7" r="3.95"/><circle cx="1041" cy="1079.6" r="3.95"/><circle cx="1042" cy="1080.4" r="3.95"/><circle cx="1043.1" cy="1080" r="3.95"/><circle cx="1044.2" cy="1082.4" r="3.95"/><circle cx="985.7" cy="1012.2" r="3.95"/><circle cx="986.6" cy="991.4" r="3.95"/><circle cx="987.9" cy="963.7" r="3.95"/><circle cx="988.5" cy="910" r="3.95"/><circle cx="990.1" cy="863.5" r="3.95"/><circle cx="991.1" cy="890.9" r="3.95"/><circle cx="992.1" cy="921.4" r="3.95"/><circle cx="993.2" cy="989.5" r="3.95"/><circle cx="994.3" cy="1002.2" r="3.95"/></g>
</g>
<path d="M63.5 534.2 65.5 534.9 67.4 534.7 69.4 533.5 71.3 535.6 72.9 535 73.3 535.3 75.3 534.1 77.2 534.7 79.2 534.2 81.1 533.8 81.4 533.5 83.1 534 85.1 535 87 534.5 87.9 535.4 89 535.2 90.9 534.8 92.9 535.6 94.9 535.1 96.8 534.7 98.8 534.2 100.7 534.5 102.7 534.6 102.9 534.6 104.7 534.3 106.6 535.5 108.6 535.2 110.5 531.9 112.5 532.5 114.5 533.9 116.4 533.6 117.9 533.9 118.4 534.1 120.3 534.4 122.3 536.3 124.3 533.8 126.2 534.7 128.2 537.1 128.6 535.4 130.1 535.4 132.1 534.7 132.9 533.9 134.1 533.6 136 532.8 138 534.5 139.9 534.6 141.4 534.6 141.9 533.2 143.9 532.1 145.8 531.1 147.8 528.9 147.9 529.6 149.7 530.1 151.7 531 153.7 531.6 154.3 531.8 155.6 531.7 157.6 533.2 159.5 534 161.5 534.1 161.8 533.9 163.5 535.1 165.4 538.8 167.4 540 168.2 541.4 169.3 542.4 171.3 541.1 173.3 543.2 173.6 542.5 175.2 539.9 177.2 535.6 178.9 533.9 179.1 533.6 181.1 533.9 183.1 534.1 185 533.1 186.4 533.9 187 534.1 188.9 539.2 189.6 540.4 190.9 537.4 192.9 534.2 192.9 533.9 194.8 533.7 196.8 530.8 198.7 531.6 200.4 530.7 200.7 531.6 202.7 529.7 204.6 528.6 206.6 529.3 208.5 528.2 210 527.5 210.5 528.8 212.5 529.7 214.3 531.8 214.4 530.4 216.4 529.6 217.5 528.6 218.3 529.8 220.3 534.5 220.7 534.6 222.3 532.9 223.9 530.7 224.2 529.2 226.2 529 228.1 530.3 230.1 529.5 231.4 528.6 232.1 527.6 234 527 236 526.1 237.9 524.9 239.9 524 240 523.2 241.9 524.8 243.8 526 245.8 527.4 246.4 528.1 247.7 530.4 249.7 529.7 251.7 533.7 252.8 535 253.6 536.4 255.6 538.5 257.5 543.4 259.3 546.1 259.5 545.4 261.5 545.1 262.5 543.6 263.4 540.7 265.4 535.4 265.7 533.9 267.3 533.3 267.8 531.8 269.3 521.2 271.3 505.8 271.7 503.3 273.2 505 273.2 504 275.2 534.8 275.3 535 277.1 515.7 279 496.4 279.1 496.5 281.1 509.8 283 522.1 285 535.6 285 535 286.9 536.3 288.2 537.1 288.9 536.3 290.9 533.6 292.5 532.4 292.8 532.9 294.8 532.6 295.7 533.9 296.7 534.6 298.7 535.7 300.7 533.5 302.1 535 302.6 533.2 304.6 537 306.4 537.6 306.5 539.8 308.5 537.3 310.5 537.7 312.4 539.8 313.9 539.7 314.4 538.8 316.3 538.5 318.3 538 320.3 538.2 322.2 536.8 324.2 536.8 326.1 535.8 327.8 535.4 328.1 534.7 330.1 535.1 332 534.6 334 535.4 335.9 534.4 337.9 534.5 338.6 535.4 339.9 536.6 341.8 535.4 343.8 535.4 345.7 535.8 347.7 535 349.7 535.2 351.6 535.8 353.6 535.6 355.5 534.4 355.7 535.4" fill="none" stroke="#000" stroke-width="1.8" stroke-linejoin="round"/>
<path d="M367.6 535 367.6 535.1 368.6 534.6 369.6 534.6 370.5 533 371.5 536.2 372.5 535.6 373.5 534.5 374.5 535.2 375.4 534.8 376.4 534.2 377.4 535.3 378.4 534.2 379.4 534.2 380.3 533.8 381.3 534.7 382.3 534.2 383.3 534.6 384.3 533.7 385.2 534.2 386.1 534.1 386.2 533.4 387.2 534.8 388.2 534.4 389.2 534.5 390.1 534.7 391.1 533.7 392.1 535.1 393.1 536.1 394.1 533.4 395 533.4 396 533.6 397 535.4 398 535 399 535.7 399.9 535.5 400.9 535.2 401.9 535.3 402.9 535 403.4 535.2 403.9 535.8 404.8 534.1 405.8 534.4 406.8 534.7 407.8 535.7 408.8 533.6 409.7 533.2 410.7 533.4 411.7 534.3 412.7 533.3 413.7 534.2 414.6 531.7 415.6 533.7 416.6 533.5 417.6 531.4 418.6 532.4 418.6 532.3 419.5 533.4 420.5 532.7 421.5 533.5 422.5 534.7 423.5 533.3 424.4 533.1 425.4 532.8 426.4 534.1 427.4 533.6 428.4 533.8 429.3 534 429.5 534.1 430.3 534.5 431.3 533.1 432.3 532.7 433.3 531.9 434.2 534.6 435.2 533.6 436.2 534.6 437.2 533.4 438.2 532.7 439.1 533.6 440.1 533.1 441.1 532.1 442.1 532.3 443.1 534.2 444 533 445 533 446 532.4 447 532 448 533.1 448.9 532.2 449.9 531.6 450.9 532 451.9 531.4 452.9 532.1 453.8 532.7 454.8 531.1 455.5 531.7 455.8 532.8 456.8 531.5 457.8 532.4 458.7 531.9 459.7 532.6 460.7 533.1 461.7 533 462.1 533.4 462.7 533.4 463.6 534.3 464.6 535 465.6 535.3 466.6 537.2 467.5 538.2 467.6 538.4 468.5 538 469.5 536.9 470.5 537.4 471.5 534.9 472.5 533.4 472.9 533.4 473.4 534.3 474.4 531.2 475.4 531.8 476.4 529.5 477.4 529.5 478.3 526.9 479.3 528.1 479.4 527.4 480.3 527.9 481.3 528 482.3 530.7 483.2 530.7 484.2 530.9 484.9 531.3 485.2 530.9 486.2 532.1 487.2 532.7 488.1 533.4 488.1 533.9 489.1 533.2 490.1 531.2 491.1 530.5 492.1 529.7 493 528.3 494 528 494.6 528 495 528.2 496 529.4 497 530.5 497.9 529.6 498.9 531.2 499.9 531.1 500.9 533.6 501.2 532.3 501.9 531.9 502.8 531.9 503.8 530.3 504.8 529.9 505.8 530.2 506.8 529.3 507.7 529.1 507.7 529.4 508.7 528.7 509.7 531.1 510.7 530.6 511.7 533.3 512 532.3 512.6 532.2 513.6 533.4 514.6 531.7 515.6 533.2 516.6 532.4 517.5 532.9 518.5 533.4 519.5 533.3 520.5 533.9 521.5 534.5 522.4 534.6 523.4 534.2 524.4 533.4 525 534.5 525.4 533.7 526.4 533.8 527.3 531.9 528.3 533.7 529.3 532.5 530.3 532.1 531.3 532.6 532.2 532 533.2 531.3 534.2 530 535.2 530.5 536.2 530.2 537.1 528.8 538.1 529.1 538.1 529.9 539.1 529.6 540.1 527.9 541.1 529.6 542 528.6 543 530.6 544 530.5 545 529.1 546 529.4 546.8 530.2 546.9 530.4 547.9 531 548.9 533.1 549.9 533.3 550.9 533.4 551.8 534.8 552.8 533.7 553.3 535.6 553.8 536.5 554.8 538.2 555.8 538.7 556.7 539.5 557.7 541.8 558.7 544.1 559.7 544 560.7 544.3 561.6 547.5 562 546.9 562.6 544 563.6 543.4 564.6 540.2 565.6 538.9 566.5 535.2 567.5 534.5 568 532.3 568.5 533.3 569.5 533.2 570.5 534.4 571.4 537.1 572.4 539.8 573.4 540.4 573.9 541 574.4 540.3 575.4 538.4 576.3 537.6 577.2 535.6 577.3 534.6 578.3 523.9 579.3 512.3 579.8 507.4 580.3 508 581.2 507.5 582.2 504.9 582.6 505.6 583.2 514.3 584.2 524.6 584.8 531.3 585.2 532.1 586.1 534.3 587.1 539.5 588.1 542.6 588.4 543.2 589.1 541.8 590.1 539.6 591 540.5 592 537.9 592.4 537.8 593 537.1 594 539 595 537.9 595.9 536.5 596.9 534.8 597.9 535.1 598.9 532.3 599.9 533.6 600 533.4 600.8 533.3 601.8 533.5 602.8 533.8 603.8 536 604.8 536.2 605.7 536.8 606.7 537.9 607.6 537.8 607.7 537.1 608.7 536 609.7 534.9 610.6 535.2 611.6 535.3 611.9 534.5 612.6 534.4 613.6 535 614.6 533.6 615.5 534.1 616.5 533.9 617.5 533.6 618.5 535.9 619.5 535.1 620.4 533.9 621.4 533.9 622.4 534.5 623.4 533.4 624.4 534.8 625.3 533.5 626.3 534.2 627.3 533.7 628.3 534.1 629.3 533.5 630.2 533.3 631.2 533.8 631.5 534.5 632.2 534.1 633.2 534.5 634.2 534.9 635.1 536.2 636.1 535.8 637.1 535.1 638.1 536 639.1 535 640 536.8 641 536.2 642 534.9 642.3 536 643 536.5 644 536.5 644.9 533.8 645.9 535.1 646.9 535.2 647.9 534.1 648.9 534.6 649.8 534.6 650.8 535.6 651.8 535.4 652.8 537.1 653.8 534.7 654.7 535.8 655.7 534.9 656.7 535 657.7 533.8 658.7 533.2 659.6 533.9 659.7 534.5" fill="none" stroke="#000" stroke-width="1.8" stroke-linejoin="round"/>
<path d="M785.5 535.4 785.5 536.6 787.7 533.4 789.9 534.7 792 533.7 794.2 533.3 796.4 533 798.6 531.5 800 532.4 800.8 532.5 802.9 532.6 805.1 535.7 807.3 534.4 809.5 534.6 811.7 535.2 811.8 535.4 813.8 533.7 816 532.2 818.2 531.2 820.4 530.4 820.4 530.1 822.6 529.9 824.7 530.5 826.9 529.8 829.1 529.8 831.3 530.7 833.5 530 835.6 529.3 836.4 529.6 837.8 528.1 840 526.3 842.2 525 842.4 523.6 844.4 527.3 846.5 531.7 847.6 533.9 848.7 535.3 850.9 535.8 851.9 537.1 853.1 535.5 855.3 533.5 855.7 532.4 857.4 534.4 859.6 536.2 861.8 538.6 864 538.6 864.7 541 866.2 537.9 867.5 533.9 868.3 531.8 870.5 527.4 871.8 526 872.7 527.3 874.9 530.4 877.1 532.6 877.1 532.9 879.2 533.8 881.4 536 883.6 537.5 884.6 538.2 885.8 538.3 888 536.7 890 535 890.1 535.1 892.3 535 894.5 533.6 896.7 532.6 898.9 532.9 901 532.3 902.9 531.4 903.2 531.3 905.4 530.8 907.6 531.3 909.8 529.6 911.9 531.3 914.1 531.1 916.3 529.7 918.5 530.6 920.7 529.9 922.8 530.8 924.3 530.3 925 529.1 927.2 529.8 929.4 530.8 931.6 531.1 933.7 529.2 935.9 530.2 938.1 530.7 940.3 530.2 942.5 531.6 944.6 529.9 946.8 530.9 947.9 530.7 949 530.4 951.2 532.6 953.4 532.5 955.5 533 956.4 533.5 957.7 532.3 959.9 534.1 962.1 533.2 964.3 532.9 965 532.4 966.4 534.3 968.6 535.7 970.8 536.9 973 538.7 973.6 539.7 975.2 538.6 977.3 539 979.5 536.4 981.7 536.1 983.9 535.4 984.3 535.4 986.1 540.4 988.2 546.7 990.4 551.7 990.7 553.2 992.6 545 994.8 537.9 995 537.1 997 548.6 998.2 554.7 999.1 551.5 1001.3 542.9 1002.5 538.2 1003.5 540.9 1005.7 547.5 1005.7 547.4 1007.9 539.6 1008.9 536.1 1010 536.4 1012.2 535 1014.4 535.2 1016.6 534.6 1018.8 534.6 1020.9 534 1022.9 533.5 1023.1 535.1 1025.3 535.2 1027.5 536 1029.7 534.7 1031.4 536.5 1031.8 536.3 1034 535.9 1036.2 536.4 1038.4 534.6 1040.6 536.5 1042.7 536.2 1044.9 534.6 1047.1 534.6 1049.3 534.6 1051.5 534.9 1053.6 535.1 1055 534.6 1055.8 536 1058 535 1060.2 535.9 1062.4 535.9 1064.5 537.2 1066.7 537 1068.9 537.7 1070 537.1 1071.1 536 1073.3 535.5 1075.4 534.2 1077.6 534.6 1078.6 533.3" fill="none" stroke="#000" stroke-width="1.25" stroke-linejoin="round"/>
<path d="M1089.4 534.6 1089.4 535 1090.7 534.7 1091.9 535.6 1093.2 534.8 1094.4 533.3 1095.7 534.1 1096.9 533.5 1098.2 533.8 1099.4 532.5 1100.7 533.5 1101.9 533.3 1103.2 533.9 1104.4 532.9 1105.7 532.9 1106.8 532.4 1106.9 531.5 1108.2 533.9 1109.4 531.5 1110.7 533.4 1111.9 532.6 1113.2 532.4 1114.4 532.6 1115.7 532.7 1116.9 533.5 1118.2 533.3 1119.4 534.3 1119.9 533.5 1120.7 532.1 1121.9 532.7 1123.2 531.6 1124.4 532.1 1125.7 529.8 1126.9 530.3 1128.2 530.1 1129.4 528.6 1130.7 529.5 1131.9 528.5 1132.9 528 1133.2 528.8 1134.4 529.8 1135.7 529.7 1136.2 530.7 1136.9 528.6 1138.2 526 1139.4 523.7 1140.6 520.4 1140.7 520.9 1141.9 520.9 1143.2 521.8 1143.8 522.6 1144.4 523.3 1145.7 525.9 1146.9 528.6 1148.2 531.1 1148.2 531.3 1149.4 532.1 1150.7 530.1 1151.9 529.8 1152.5 529.8 1153.2 530.6 1154.4 530.7 1155.7 532.1 1155.8 532.4 1156.9 531.3 1158.2 530.5 1159.4 528 1160.2 528 1160.7 528.7 1161.9 527.2 1163.2 527 1164.4 527 1165.7 526.4 1166.9 526.2 1167.4 525.4 1168.2 526.7 1169.4 528.5 1170.7 530.7 1171.9 531.9 1172.1 532.8 1173.2 533.2 1174.4 531.7 1175.7 531 1176.9 532.6 1178.2 530.9 1179.4 529.9 1180.7 531.4 1180.9 530.2 1181.9 530.9 1183.2 532.9 1184.4 532.9 1185.2 534.1 1185.7 533.8 1186.9 532.4 1188.2 531.8 1189.4 531.9 1190.7 531.9 1191.9 532 1193.2 532.4 1193.9 530.7 1194.4 530.5 1195.7 532.7 1196.9 532.8 1198.2 534.1 1199.4 534.3 1199.4 535.2 1200.7 533.5 1201.9 533.1 1203.2 532 1203.7 532.4 1204.4 532.4 1205.7 532.1 1206.9 533.3 1208.2 532.7 1209.4 532.8 1210.7 533.4 1211.9 533.1 1213.2 532.9 1214.4 532.9 1215.7 532.9 1216.9 533.7 1218.2 533.6 1219.4 533.4 1220.7 533.7 1221.9 533 1223.2 533.7 1224.4 532.6 1225.7 534.3 1226.9 533.6 1228.2 533.7 1229.4 534.1 1230.7 533.7 1231.9 533.7 1233.2 534.6 1234.4 534 1235.7 533.5 1236.9 534.3 1237.5 534.1 1238.2 533 1239.4 534.9 1240.7 533.7 1241.9 533.7 1243.2 534.9 1244.4 534.8 1245.7 533.4 1246.9 533.6 1248.2 533.8 1249.4 534 1250.7 532.8 1251.9 532.9 1253.2 533.4 1254.4 532.7 1255.7 532.9 1256.9 532.7 1258.2 531.5 1259.4 531.6 1260.7 530.4 1261.9 531.7 1263.2 532.5 1263.6 531.7 1264.4 531.1 1265.7 532.7 1266.9 532.8 1268.2 532.3 1269.4 532.5 1270.7 532.7 1271.9 532.3 1273.2 532.8 1274.4 533.2 1275.7 533.7 1276.9 534 1278.2 533.2 1279.4 534.4 1280.7 533.6 1281.1 534.1 1281.9 534.7 1283.2 536.1 1284.3 536.8 1284.4 536.7 1285.7 534.9 1286.9 533.5 1287.6 532.4 1288.2 532.4 1289.4 533.1 1290.7 534.2 1291.9 535.6 1293.2 535.8 1294.4 537.8 1295.7 537.5 1296.3 537.8 1296.9 535.8 1298.2 537 1299.4 537.9 1300.7 536.6 1301.9 535.9 1302.9 535.9 1303.2 535.6 1304.4 537.8 1305.7 538.5 1306.9 539.2 1308.2 540 1309.4 541.5 1310.7 542 1311.6 542.2 1311.9 541.5 1313.2 543 1314.4 542.9 1315.7 543 1316.9 543.7 1317 543.3 1318.2 545 1319.4 545.1 1319.9 547.6 1320.7 543.6 1321.9 535.2 1322.9 528 1323.2 528.4 1324.4 530.8 1325.1 532.4 1325.7 538.3 1326.9 550.4 1327.3 555.3 1328.2 551.5 1329.4 545.2 1330.7 539.2 1331.2 536.8 1331.9 535.7 1333.2 535 1334.4 535.1 1335.7 534.4 1336.9 533 1338.2 531.7 1338.8 531.3 1339.4 531.5 1340.7 534 1341.9 536.1 1343.2 535.8 1343.2 536.8 1344.4 537.2 1345.7 534.9 1346.9 535.7 1348.2 535.9 1349.4 534.5 1350.7 534.1 1351.9 534.9 1353.2 535 1354.4 533.9 1355.7 534.7 1356.9 533.1 1357.3 533.5 1358.2 534.9 1359.4 534.5 1360.7 535.1 1361.9 535.8 1363.2 536.2 1364.4 537.6 1365.7 538.4 1366 537.2 1366.9 537.3 1368.2 536.6 1369.4 535.7 1370.7 535.6 1371.9 535.8 1373.2 535.4 1374.4 535.2 1375.7 534.9 1376.9 534.6 1376.9 534.9 1378.2 533.8 1379.4 534 1380.7 535.3 1381.9 535.1 1383.2 534.3 1383.4 534.6" fill="none" stroke="#000" stroke-width="1.25" stroke-linejoin="round"/>
<path d="M449 1201.4 449 1202 450.9 1200.9 452.9 1201.7 454.8 1202.3 456.8 1202.8 458.7 1202 460.7 1201.4 462.6 1201.2 464.6 1202.4 466.5 1203.1 468.5 1202 470.4 1200.7 472.4 1200.9 474.3 1202.9 476.3 1201.8 478.2 1200.2 480.2 1201.5 482.1 1200.6 484.1 1201 486 1201.5 486 1201.1 488 1201.1 489.9 1202.2 491.9 1201.8 493.5 1202 493.8 1200.2 495.1 1195.8 495.8 1198.7 496.8 1202 497.7 1202.4 499.7 1199.8 500 1201 501.6 1202.9 502 1203.5 503.6 1200.3 504 1200.5 505.5 1204.3 506.3 1206.4 507.5 1203 508 1203 509.4 1207.3 510.6 1210.6 511.4 1207.8 512.5 1204 513.3 1200 514.2 1196.4 515.3 1203.4 516.3 1211.3 517.2 1207.4 518.5 1203 519.2 1200.9 520.1 1200.1 521.1 1200.1 523 1203 523.1 1203.2 525 1202.6 527 1204.9 527 1204 528.9 1204.1 530.9 1201.4 531 1203 532.8 1206.3 533.9 1207.9 534.8 1204.9 536 1203 536.7 1201.7 538.2 1199 538.7 1199.9 540.5 1203 540.6 1201.6 542.4 1204.9 542.6 1204.5 544.5 1202.3 545 1202 546.5 1202.8 548.4 1201.1 550.4 1202.6 552.3 1201.1 554.3 1201.7 556.2 1201.3 558.2 1203.2 560.1 1202.5 562.1 1203.9 564 1202.5 566 1202.7 567.9 1202.7 569.9 1201.5 571.8 1201.9 573.8 1203.1 575.7 1201.7 577.7 1202.2 579.6 1202 581.6 1202.5 583.5 1201.7 585.5 1201.9 587.4 1202.2 589.4 1202.1 591.3 1201.3 593.3 1202.7 595.2 1201 597.2 1201 599.1 1201 600 1202 601.1 1202.8 603 1201.7 605 1201.2 606.9 1201.1 608.9 1202.3 610.8 1201.2 612.8 1201 614.7 1202.5 616.7 1201 618.6 1201.7 620.6 1202 622.5 1201.6 624.5 1202 626.4 1203.1 628.4 1201.6 630.3 1201 632.3 1200.5 634.2 1201.8 635 1202 636.2 1200.8 638.1 1199.8 638.9 1199 640.1 1199.4 642 1201 642 1200.7 644 1201.8 645 1203 645.9 1203.2 647.9 1205 648.5 1205.3 649.8 1203.8 651 1203 651.8 1204.3 653.7 1208.8 653.8 1207.4 655.7 1205.2 657 1203 657.6 1201.8 659.6 1204.6 660.1 1203.2 661.5 1201 662 1200 663.5 1195.9 664.4 1194.7 665.4 1189.6 666.1 1185.2 667.4 1202.2 668.2 1212.7 669.3 1200.6 670.3 1191.5 671.3 1195.7 672.8 1203.2 673.2 1201 674.5 1198 675.2 1198 676 1197.9 677.1 1201.7 678 1203 679.1 1206.8 679.2 1207.4 681 1207.5 682 1207 683 1207.2 684.9 1202.1 685 1203 686.9 1203.2 688.8 1202.8 690.8 1202.2 692.7 1202.2 694.7 1203 696.6 1203.3 698.6 1202.6 700 1203 700.5 1203.2 702.5 1204.3 704.4 1204.5 706.4 1205.5 706.8 1204.9 708.3 1204.1 710 1202.5 710.3 1202.9 712.2 1204 714.2 1203 716.1 1202.6 718.1 1203.1 720 1201.8 722 1202.2 723.9 1203.1 725.9 1203 727.8 1203.7 729.8 1202.5 731.7 1201.3 733.7 1204.1 735.6 1203.4 737.6 1201.7 739.5 1203.6 739.7 1202.5" fill="none" stroke="#000" stroke-width="1.15" stroke-linejoin="round"/>
<path d="M750.4 1201 750.4 1201.8 751.5 1202.4 752.5 1199 753.6 1200.9 754.6 1201.9 755.7 1202.2 756.8 1201.6 757.8 1202.3 758.9 1201.4 759.9 1201.6 761 1201.3 762.1 1200.3 763.1 1200.5 764.2 1201.5 765.2 1200.8 766.3 1202.3 767.4 1202.3 768.4 1202.7 769.5 1201.3 770.5 1202.4 771.6 1200.6 772.7 1200.7 773.7 1201.5 774.8 1201.6 775.8 1200.2 776.9 1200.1 778 1201.7 779 1200.8 780 1201.5 780.1 1202.5 781.1 1201.8 782.2 1201.8 783.3 1201.8 784.3 1202.3 785.4 1201.5 786.4 1202.6 787.5 1201.3 788.6 1201.6 789.6 1201.2 790.7 1202.3 791.7 1201.9 792.8 1201.2 793.9 1203.5 794.9 1201.6 796 1201.9 797 1202.3 798.1 1203.4 799.2 1201.9 800.2 1202.6 800.7 1202.1 801.3 1201.7 802.3 1199.7 803.4 1200.7 804.5 1200.1 805 1198.9 805.5 1199.4 806.6 1200.9 807.6 1201 808.7 1202.3 809.3 1204.3 809.8 1202.8 810.8 1200.7 811.9 1197 812.5 1195.7 812.9 1198 814 1203.4 814.6 1205.4 815.1 1203.7 816.1 1199.9 816.8 1196.8 817.2 1198.1 818.2 1196.3 819.3 1198.3 820 1197.9 820.4 1196.9 821.4 1200.4 822.1 1201.1 822.5 1200.9 823.5 1199.2 824.6 1197.7 825.7 1197.5 826.7 1196.2 827.5 1195.7 827.8 1196.2 828.8 1196.8 829.9 1199.4 830.7 1200 831 1199.2 832 1199.7 833.1 1199.5 834.1 1200.8 835.2 1198.5 836.3 1199.3 837.1 1199.6 837.3 1200.6 838.4 1199.3 839.4 1199 840.5 1200.3 841.6 1200 842.6 1201.1 843.7 1199.8 844.7 1200.9 845.8 1201.4 846.9 1201.9 847.9 1200.3 849 1202.5 850 1201.5 850 1200.8 851.1 1200.3 852.2 1200.7 853.2 1201.6 854.3 1201.2 855.3 1201.9 856.4 1201.9 857.5 1201.8 858.5 1201.3 859.6 1203 860.6 1199.7 861.7 1200.1 862.8 1201.1 863.8 1200.5 864.9 1199.5 865.9 1200.9 867 1200.9 868.1 1199.5 869.1 1202.2 870.2 1202.5 871.2 1202.5 872.3 1201.1 873.4 1201.6 874.4 1200.6 875.5 1201.7 876.5 1201 877.6 1201.8 878.7 1201.2 879.7 1202.3 880.8 1202.2 881.8 1202.5 882.9 1200.2 884 1200 885 1201.8 886.1 1201 887.1 1201.8 888.2 1201.7 889.3 1201.6 890.3 1202.2 891.4 1201.9 892.4 1201.9 893.5 1200.8 894.6 1202.9 895.6 1201.6 896.7 1202.4 897.7 1201.8 898.8 1202.5 899.9 1201.6 900 1201.5 900.9 1201.7 902 1201.6 903 1200.9 904.1 1201 905.2 1201.4 906.2 1201.4 907.3 1200.7 908.3 1203.4 909.4 1200.7 910.5 1201.3 911.5 1203.5 912.6 1201 913.6 1202.1 914.7 1202 915.8 1201.3 916.8 1200.4 917.9 1200.3 918.9 1201.5 920 1201.8 921.1 1199.8 922.1 1201.6 923.2 1201 924.2 1202.2 925.3 1201.6 926.4 1200.9 927.4 1201.2 928.5 1201.5 929.5 1202.6 930.6 1203.9 931.7 1201.8 932.7 1201.6 933.8 1202.1 934.8 1201.5 935.9 1202.1 937 1201.9 938 1201.6 939.1 1200.9 940.1 1201.7 941.2 1202.3 942.3 1201.6 943.3 1202.8 944.4 1202.3 945.4 1201.5 946.5 1203 947.6 1200.7 948.6 1202.5 949.7 1203.1 950.7 1201.4 951.8 1201.5 952.9 1202.3 953.9 1202.7 955 1201.9 956 1201.8 957.1 1202.3 958.2 1201.8 959.2 1200.6 960 1201.5 960.3 1201.5 961.3 1201.7 962.4 1200.6 963.5 1202.2 964.5 1201.4 965.6 1202.7 966.6 1201 967.7 1201.5 968.8 1201.2 969.8 1203.4 970.9 1203.5 971.9 1203.8 972 1202.5 973 1205.1 974.1 1206 975.1 1207.3 976.2 1206.6 977.2 1209.6 977.5 1209.6 978.3 1207.4 979.4 1205.1 980.4 1201.9 980.7 1202.1 981.5 1205.3 982.5 1207.3 983.6 1208.8 983.9 1210.7 984.7 1208.7 985.7 1204.6 986.8 1200.3 987.1 1200 987.8 1207.8 988.2 1211.8 988.9 1199.3 989.9 1182.9 990 1181.9 991 1196.1 991.4 1202.1 992.1 1211.1 993.1 1223.6 993.1 1223.3 994.2 1206.5 994.6 1200 995.3 1201 996.3 1204.5 996.8 1206.4 997.4 1205 998.4 1202.8 998.9 1201.1 999.5 1200.3 1000.6 1199.9 1001.6 1201.5 1002.7 1200.4 1003.7 1199.8 1004.3 1200 1004.8 1199.6 1005.9 1200 1006.9 1202.2 1008 1202.1 1009 1201.3 1010 1202 1010.1 1201 1011.2 1203.3 1012.2 1203.2 1013.3 1202.9 1014.3 1202.6 1015.4 1200.4 1016.5 1200.9 1017.5 1202.3 1018.6 1201.6 1019.6 1202 1020.7 1201.4 1021.8 1201.3 1022.8 1202.2 1023.9 1201.5 1024.9 1201.8 1026 1201.9 1027.1 1201.9 1028.1 1202.6 1029.2 1202.8 1030.2 1200.6 1031.3 1201.4 1032.4 1201.1 1033.4 1202.2 1034.5 1200.7 1035.5 1202.2 1036.6 1202.1 1037.7 1202 1038.7 1200.8 1039.8 1201.3 1040.8 1200.6 1041 1201.5" fill="none" stroke="#000" stroke-width="1.15" stroke-linejoin="round"/>
<text x="75.7" y="48.7" font-family='"Liberation Serif", serif' font-size="24.0" text-anchor="start" stroke="#000" stroke-width="0.3" textLength="64.6" lengthAdjust="spacingAndGlyphs" id="t1">PTLa8</text>
<text x="801.3" y="53.7" font-family='"Liberation Serif", serif' font-size="24.4" text-anchor="start" stroke="#000" stroke-width="0.3" textLength="69.3" lengthAdjust="spacingAndGlyphs" id="t2">PTSm8</text>
<text x="460.4" y="754.9" font-family='"Liberation Serif", serif' font-size="23.6" text-anchor="start" stroke="#000" stroke-width="0.3" textLength="67.5" lengthAdjust="spacingAndGlyphs" id="t3">PTDy8</text>
<text transform="translate(186.2 249.6) rotate(-90)" font-family='"Liberation Serif", serif' font-size="25.2" text-anchor="middle" stroke="#000" stroke-width="0.3" textLength="51.3" lengthAdjust="spacingAndGlyphs" id="t4">(001)</text>
<text transform="translate(252 59.2) rotate(-90)" font-family='"Liberation Serif", serif' font-size="25.2" text-anchor="middle" stroke="#000" stroke-width="0.3" textLength="51.1" lengthAdjust="spacingAndGlyphs" id="t5">(100)</text>
<text transform="translate(480.2 302.1) rotate(-90)" font-family='"Liberation Serif", serif' font-size="25.2" text-anchor="middle" stroke="#000" stroke-width="0.3" textLength="51.1" lengthAdjust="spacingAndGlyphs" id="t6">(002)</text>
<text transform="translate(581.2 74) rotate(-90)" font-family='"Liberation Serif", serif' font-size="25.2" text-anchor="middle" stroke="#000" stroke-width="0.3" textLength="51.9" lengthAdjust="spacingAndGlyphs" id="t7">(200)</text>
<text transform="translate(865.9 255) rotate(-90)" font-family='"Liberation Serif", serif' font-size="25.2" text-anchor="middle" stroke="#000" stroke-width="0.3" textLength="52.6" lengthAdjust="spacingAndGlyphs" id="t8">(001)</text>
<text transform="translate(982.9 51) rotate(-90)" font-family='"Liberation Serif", serif' font-size="25.2" text-anchor="middle" stroke="#000" stroke-width="0.3" textLength="52.1" lengthAdjust="spacingAndGlyphs" id="t9">(100)</text>
<text transform="translate(1152.6 325.1) rotate(-90)" font-family='"Liberation Serif", serif' font-size="25.2" text-anchor="middle" stroke="#000" stroke-width="0.3" textLength="51.3" lengthAdjust="spacingAndGlyphs" id="t10">(002)</text>
<text transform="translate(1329.7 79.8) rotate(-90)" font-family='"Liberation Serif", serif' font-size="25.2" text-anchor="middle" stroke="#000" stroke-width="0.3" textLength="51.9" lengthAdjust="spacingAndGlyphs" id="t11">(200)</text>
<text transform="translate(521.1 941.6) rotate(-90)" font-family='"Liberation Serif", serif' font-size="26.0" text-anchor="middle" stroke="#000" stroke-width="0.3" textLength="47.3" lengthAdjust="spacingAndGlyphs" id="t12">(001)</text>
<text transform="translate(648.1 756.6) rotate(-90)" font-family='"Liberation Serif", serif' font-size="26.0" text-anchor="middle" stroke="#000" stroke-width="0.3" textLength="47" lengthAdjust="spacingAndGlyphs" id="t13">(100)</text>
<text transform="translate(815.9 1003.1) rotate(-90)" font-family='"Liberation Serif", serif' font-size="26.0" text-anchor="middle" stroke="#000" stroke-width="0.3" textLength="47.9" lengthAdjust="spacingAndGlyphs" id="t14">(002)</text>
<text transform="translate(995 818.8) rotate(-90)" font-family='"Liberation Serif", serif' font-size="26.0" text-anchor="middle" stroke="#000" stroke-width="0.3" textLength="47.9" lengthAdjust="spacingAndGlyphs" id="t15">(200)</text>
<text transform="translate(27.9 290) rotate(-90)" font-family='"Liberation Serif", serif' font-size="35.0" text-anchor="middle" stroke="#000" stroke-width="0.3" textLength="209" lengthAdjust="spacingAndGlyphs" id="t16">Intensity (a.u.)</text>
<text transform="translate(758.7 300) rotate(-90)" font-family='"Liberation Serif", serif' font-size="33.5" text-anchor="middle" stroke="#000" stroke-width="0.3" textLength="199.3" lengthAdjust="spacingAndGlyphs" id="t17">Intensity (a.u.)</text>
<text transform="translate(419.3 986.2) rotate(-90)" font-family='"Liberation Serif", serif' font-size="31.5" text-anchor="middle" stroke="#000" stroke-width="0.3" textLength="185.1" lengthAdjust="spacingAndGlyphs" id="t18">Intensity (a.u.)</text>
<text x="356.4" y="664.6" font-family='"Liberation Serif", serif' font-size="33.5" text-anchor="middle" stroke="#000" stroke-width="0.3" textLength="172.6" lengthAdjust="spacingAndGlyphs" id="t19">2θ (degrees)</text>
<text x="1079" y="668.9" font-family='"Liberation Serif", serif' font-size="32.0" text-anchor="middle" stroke="#000" stroke-width="0.3" textLength="164.6" lengthAdjust="spacingAndGlyphs" id="t20">2θ (degrees)</text>
<text x="744.9" y="1324.8" font-family='"Liberation Serif", serif' font-size="32.5" text-anchor="middle" stroke="#000" stroke-width="0.3" textLength="168.8" lengthAdjust="spacingAndGlyphs" id="t21">2θ (degrees)</text>
</svg>
</body></html>
